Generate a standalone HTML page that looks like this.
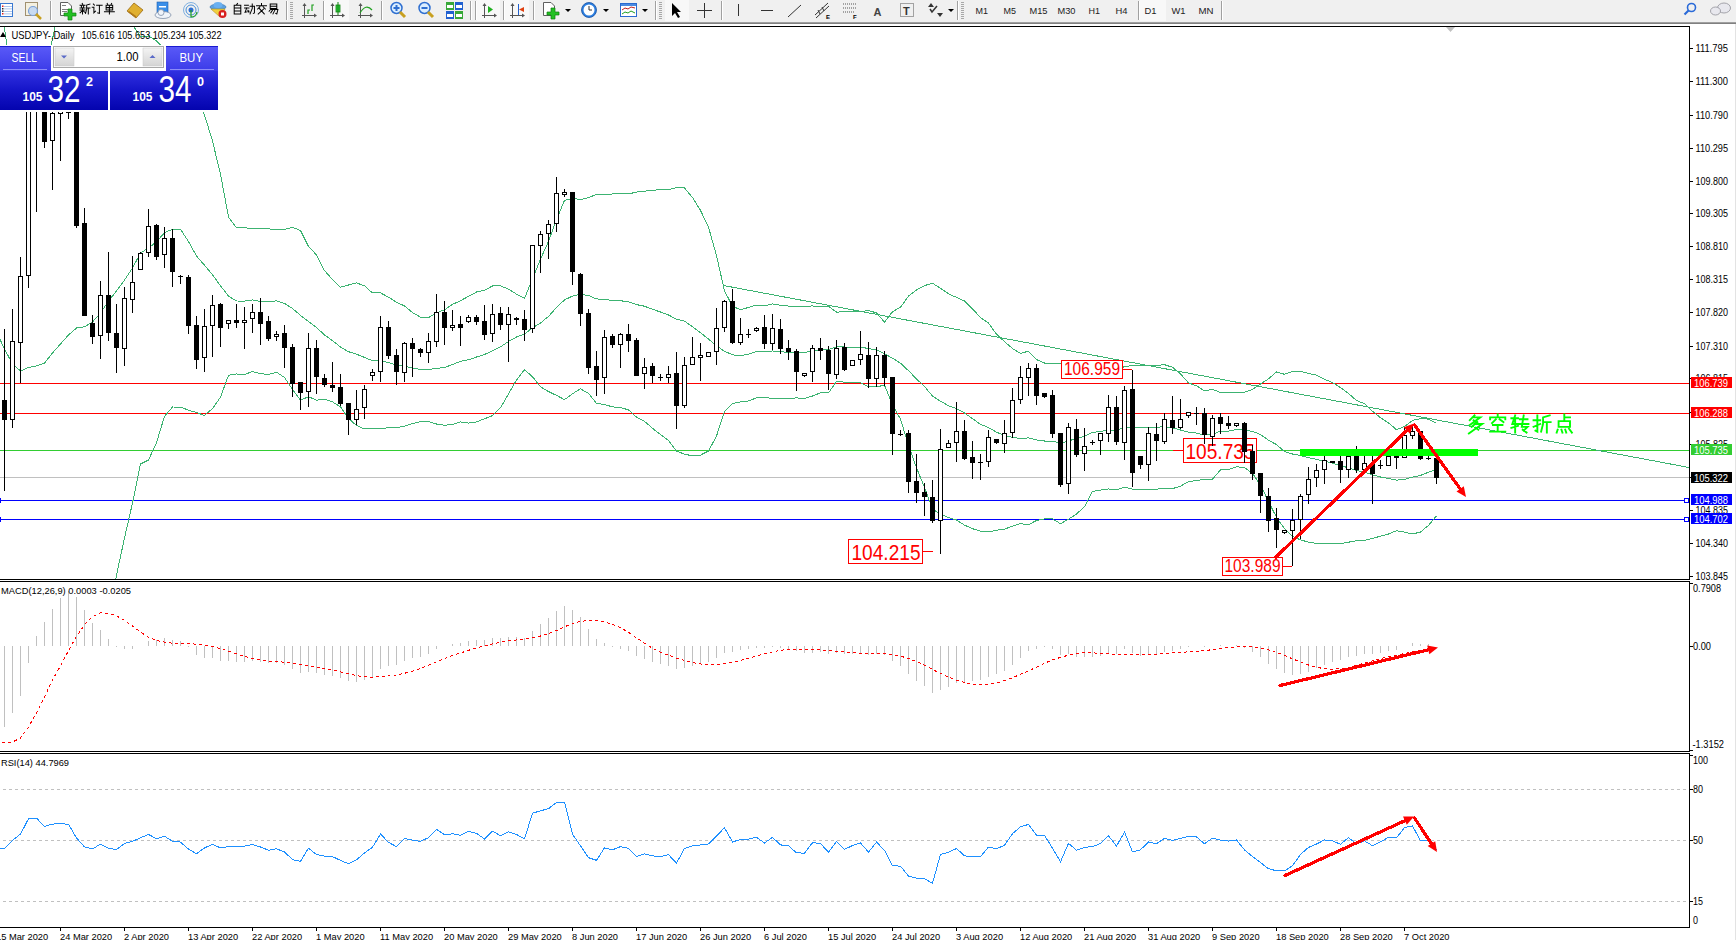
<!DOCTYPE html>
<html><head><meta charset="utf-8"><style>
html,body{margin:0;padding:0;width:1736px;height:940px;overflow:hidden;background:#fff;font-family:"Liberation Sans",sans-serif;}
</style></head><body>
<svg width="1736" height="940" viewBox="0 0 1736 940" style="position:absolute;left:0;top:0" font-family="Liberation Sans, sans-serif">
<rect width="1736" height="940" fill="#fff"/>
<defs>
<clipPath id="cm"><rect x="0" y="27" width="1689" height="552"/></clipPath>
<clipPath id="cmacd"><rect x="0" y="582" width="1689" height="169"/></clipPath>
<clipPath id="crsi"><rect x="0" y="754" width="1689" height="173"/></clipPath>
</defs>
<g shape-rendering="crispEdges">
<rect x="0" y="0" width="1736" height="22" fill="#f0f0f0"/>
<rect x="0" y="22" width="1736" height="1" fill="#a0a0a0"/>
<rect x="0" y="23" width="1736" height="1" fill="#808080"/>
<rect x="1735" y="24" width="1" height="916" fill="#e3e3e3"/>
<rect x="0" y="26" width="1690" height="1"/>
<rect x="1689" y="26" width="1" height="554"/>
<rect x="0" y="579" width="1690" height="1"/>
<rect x="0" y="581" width="1690" height="1"/>
<rect x="1689" y="581" width="1" height="171"/>
<rect x="0" y="751" width="1690" height="1"/>
<rect x="0" y="753" width="1690" height="1"/>
<rect x="1689" y="753" width="1" height="175"/>
<rect x="0" y="927" width="1690" height="1"/>
<rect x="1690" y="48" width="3" height="1"/>
<text x="1695.5" y="52" font-size="10" fill="#000" text-anchor="start" font-weight="normal" textLength="32.5" lengthAdjust="spacingAndGlyphs" >111.795</text>
<rect x="1690" y="81" width="3" height="1"/>
<text x="1695.5" y="85" font-size="10" fill="#000" text-anchor="start" font-weight="normal" textLength="32.5" lengthAdjust="spacingAndGlyphs" >111.300</text>
<rect x="1690" y="115" width="3" height="1"/>
<text x="1695.5" y="119" font-size="10" fill="#000" text-anchor="start" font-weight="normal" textLength="32.5" lengthAdjust="spacingAndGlyphs" >110.790</text>
<rect x="1690" y="148" width="3" height="1"/>
<text x="1695.5" y="152" font-size="10" fill="#000" text-anchor="start" font-weight="normal" textLength="32.5" lengthAdjust="spacingAndGlyphs" >110.295</text>
<rect x="1690" y="181" width="3" height="1"/>
<text x="1695.5" y="185" font-size="10" fill="#000" text-anchor="start" font-weight="normal" textLength="32.5" lengthAdjust="spacingAndGlyphs" >109.800</text>
<rect x="1690" y="213" width="3" height="1"/>
<text x="1695.5" y="217" font-size="10" fill="#000" text-anchor="start" font-weight="normal" textLength="32.5" lengthAdjust="spacingAndGlyphs" >109.305</text>
<rect x="1690" y="246" width="3" height="1"/>
<text x="1695.5" y="250" font-size="10" fill="#000" text-anchor="start" font-weight="normal" textLength="32.5" lengthAdjust="spacingAndGlyphs" >108.810</text>
<rect x="1690" y="279" width="3" height="1"/>
<text x="1695.5" y="283" font-size="10" fill="#000" text-anchor="start" font-weight="normal" textLength="32.5" lengthAdjust="spacingAndGlyphs" >108.315</text>
<rect x="1690" y="312" width="3" height="1"/>
<text x="1695.5" y="316" font-size="10" fill="#000" text-anchor="start" font-weight="normal" textLength="32.5" lengthAdjust="spacingAndGlyphs" >107.820</text>
<rect x="1690" y="346" width="3" height="1"/>
<text x="1695.5" y="350" font-size="10" fill="#000" text-anchor="start" font-weight="normal" textLength="32.5" lengthAdjust="spacingAndGlyphs" >107.310</text>
<rect x="1690" y="378" width="3" height="1"/>
<text x="1695.5" y="382" font-size="10" fill="#000" text-anchor="start" font-weight="normal" textLength="32.5" lengthAdjust="spacingAndGlyphs" >106.815</text>
<rect x="1690" y="412" width="3" height="1"/>
<text x="1695.5" y="416" font-size="10" fill="#000" text-anchor="start" font-weight="normal" textLength="32.5" lengthAdjust="spacingAndGlyphs" >106.305</text>
<rect x="1690" y="444" width="3" height="1"/>
<text x="1695.5" y="448" font-size="10" fill="#000" text-anchor="start" font-weight="normal" textLength="32.5" lengthAdjust="spacingAndGlyphs" >105.825</text>
<rect x="1690" y="477" width="3" height="1"/>
<text x="1695.5" y="481" font-size="10" fill="#000" text-anchor="start" font-weight="normal" textLength="32.5" lengthAdjust="spacingAndGlyphs" >105.330</text>
<rect x="1690" y="510" width="3" height="1"/>
<text x="1695.5" y="514" font-size="10" fill="#000" text-anchor="start" font-weight="normal" textLength="32.5" lengthAdjust="spacingAndGlyphs" >104.835</text>
<rect x="1690" y="543" width="3" height="1"/>
<text x="1695.5" y="547" font-size="10" fill="#000" text-anchor="start" font-weight="normal" textLength="32.5" lengthAdjust="spacingAndGlyphs" >104.340</text>
<rect x="1690" y="576" width="3" height="1"/>
<text x="1695.5" y="580" font-size="10" fill="#000" text-anchor="start" font-weight="normal" textLength="32.5" lengthAdjust="spacingAndGlyphs" >103.845</text>
<rect x="1690" y="583" width="3" height="1"/>
<text x="1693" y="592" font-size="10" fill="#000" text-anchor="start" font-weight="normal" textLength="28" lengthAdjust="spacingAndGlyphs" >0.7908</text>
<rect x="1690" y="646" width="3" height="1"/>
<text x="1693" y="650" font-size="10" fill="#000" text-anchor="start" font-weight="normal" textLength="18" lengthAdjust="spacingAndGlyphs" >0.00</text>
<rect x="1690" y="750" width="3" height="1"/>
<text x="1692.5" y="748" font-size="10" fill="#000" text-anchor="start" font-weight="normal" textLength="31.5" lengthAdjust="spacingAndGlyphs" >-1.3152</text>
<rect x="1690" y="755" width="3" height="1"/>
<rect x="1690" y="789" width="3" height="1"/>
<rect x="1690" y="840" width="3" height="1"/>
<rect x="1690" y="901" width="3" height="1"/>
<text x="1693" y="764" font-size="10" fill="#000" text-anchor="start" font-weight="normal" textLength="15" lengthAdjust="spacingAndGlyphs" >100</text>
<text x="1693" y="793" font-size="10" fill="#000" text-anchor="start" font-weight="normal" textLength="10" lengthAdjust="spacingAndGlyphs" >80</text>
<text x="1693" y="844" font-size="10" fill="#000" text-anchor="start" font-weight="normal" textLength="10" lengthAdjust="spacingAndGlyphs" >50</text>
<text x="1693" y="905" font-size="10" fill="#000" text-anchor="start" font-weight="normal" textLength="10" lengthAdjust="spacingAndGlyphs" >15</text>
<text x="1693" y="924" font-size="10" fill="#000" text-anchor="start" font-weight="normal" textLength="5" lengthAdjust="spacingAndGlyphs" >0</text>
<line x1="3" y1="789.5" x2="1689" y2="789.5" stroke="#c0c0c0" stroke-dasharray="3,3"/>
<line x1="3" y1="840.5" x2="1689" y2="840.5" stroke="#c0c0c0" stroke-dasharray="3,3"/>
<line x1="3" y1="901.5" x2="1689" y2="901.5" stroke="#c0c0c0" stroke-dasharray="3,3"/>
<rect x="-4" y="928" width="1" height="3"/>
<text x="-4" y="939.5" font-size="9.3" fill="#000" text-anchor="start" font-weight="normal" >15 Mar 2020</text>
<rect x="60" y="928" width="1" height="3"/>
<text x="60" y="939.5" font-size="9.3" fill="#000" text-anchor="start" font-weight="normal" >24 Mar 2020</text>
<rect x="124" y="928" width="1" height="3"/>
<text x="124" y="939.5" font-size="9.3" fill="#000" text-anchor="start" font-weight="normal" >2 Apr 2020</text>
<rect x="188" y="928" width="1" height="3"/>
<text x="188" y="939.5" font-size="9.3" fill="#000" text-anchor="start" font-weight="normal" >13 Apr 2020</text>
<rect x="252" y="928" width="1" height="3"/>
<text x="252" y="939.5" font-size="9.3" fill="#000" text-anchor="start" font-weight="normal" >22 Apr 2020</text>
<rect x="316" y="928" width="1" height="3"/>
<text x="316" y="939.5" font-size="9.3" fill="#000" text-anchor="start" font-weight="normal" >1 May 2020</text>
<rect x="380" y="928" width="1" height="3"/>
<text x="380" y="939.5" font-size="9.3" fill="#000" text-anchor="start" font-weight="normal" >11 May 2020</text>
<rect x="444" y="928" width="1" height="3"/>
<text x="444" y="939.5" font-size="9.3" fill="#000" text-anchor="start" font-weight="normal" >20 May 2020</text>
<rect x="508" y="928" width="1" height="3"/>
<text x="508" y="939.5" font-size="9.3" fill="#000" text-anchor="start" font-weight="normal" >29 May 2020</text>
<rect x="572" y="928" width="1" height="3"/>
<text x="572" y="939.5" font-size="9.3" fill="#000" text-anchor="start" font-weight="normal" >8 Jun 2020</text>
<rect x="636" y="928" width="1" height="3"/>
<text x="636" y="939.5" font-size="9.3" fill="#000" text-anchor="start" font-weight="normal" >17 Jun 2020</text>
<rect x="700" y="928" width="1" height="3"/>
<text x="700" y="939.5" font-size="9.3" fill="#000" text-anchor="start" font-weight="normal" >26 Jun 2020</text>
<rect x="764" y="928" width="1" height="3"/>
<text x="764" y="939.5" font-size="9.3" fill="#000" text-anchor="start" font-weight="normal" >6 Jul 2020</text>
<rect x="828" y="928" width="1" height="3"/>
<text x="828" y="939.5" font-size="9.3" fill="#000" text-anchor="start" font-weight="normal" >15 Jul 2020</text>
<rect x="892" y="928" width="1" height="3"/>
<text x="892" y="939.5" font-size="9.3" fill="#000" text-anchor="start" font-weight="normal" >24 Jul 2020</text>
<rect x="956" y="928" width="1" height="3"/>
<text x="956" y="939.5" font-size="9.3" fill="#000" text-anchor="start" font-weight="normal" >3 Aug 2020</text>
<rect x="1020" y="928" width="1" height="3"/>
<text x="1020" y="939.5" font-size="9.3" fill="#000" text-anchor="start" font-weight="normal" >12 Aug 2020</text>
<rect x="1084" y="928" width="1" height="3"/>
<text x="1084" y="939.5" font-size="9.3" fill="#000" text-anchor="start" font-weight="normal" >21 Aug 2020</text>
<rect x="1148" y="928" width="1" height="3"/>
<text x="1148" y="939.5" font-size="9.3" fill="#000" text-anchor="start" font-weight="normal" >31 Aug 2020</text>
<rect x="1212" y="928" width="1" height="3"/>
<text x="1212" y="939.5" font-size="9.3" fill="#000" text-anchor="start" font-weight="normal" >9 Sep 2020</text>
<rect x="1276" y="928" width="1" height="3"/>
<text x="1276" y="939.5" font-size="9.3" fill="#000" text-anchor="start" font-weight="normal" >18 Sep 2020</text>
<rect x="1340" y="928" width="1" height="3"/>
<text x="1340" y="939.5" font-size="9.3" fill="#000" text-anchor="start" font-weight="normal" >28 Sep 2020</text>
<rect x="1404" y="928" width="1" height="3"/>
<text x="1404" y="939.5" font-size="9.3" fill="#000" text-anchor="start" font-weight="normal" >7 Oct 2020</text>
<rect x="1691" y="377" width="41" height="11" fill="#ff0000"/>
<text x="1694" y="386.5" font-size="10" fill="#fff" text-anchor="start" font-weight="normal" textLength="34" lengthAdjust="spacingAndGlyphs" >106.739</text>
<rect x="1691" y="407" width="41" height="11" fill="#ff0000"/>
<text x="1694" y="416.5" font-size="10" fill="#fff" text-anchor="start" font-weight="normal" textLength="34" lengthAdjust="spacingAndGlyphs" >106.288</text>
<rect x="1691" y="444" width="41" height="11" fill="#32cd32"/>
<text x="1694" y="453.5" font-size="10" fill="#fff" text-anchor="start" font-weight="normal" textLength="34" lengthAdjust="spacingAndGlyphs" >105.735</text>
<rect x="1691" y="472" width="41" height="11" fill="#000000"/>
<text x="1694" y="481.5" font-size="10" fill="#fff" text-anchor="start" font-weight="normal" textLength="34" lengthAdjust="spacingAndGlyphs" >105.322</text>
<rect x="1691" y="494" width="41" height="11" fill="#0000ff"/>
<text x="1694" y="503.5" font-size="10" fill="#fff" text-anchor="start" font-weight="normal" textLength="34" lengthAdjust="spacingAndGlyphs" >104.988</text>
<rect x="1691" y="513" width="41" height="11" fill="#0000ff"/>
<text x="1694" y="522.5" font-size="10" fill="#fff" text-anchor="start" font-weight="normal" textLength="34" lengthAdjust="spacingAndGlyphs" >104.702</text>
</g>
<g clip-path="url(#cm)" shape-rendering="crispEdges">
<rect x="0" y="383" width="1689" height="1" fill="#ff0000"/>
<rect x="0" y="413" width="1689" height="1" fill="#ff0000"/>
<rect x="0" y="450" width="1689" height="1" fill="#32cd32"/>
<rect x="0" y="477" width="1689" height="1" fill="#c0c0c0"/>
<rect x="0" y="500" width="1689" height="1" fill="#0000ff"/>
<rect x="0" y="498" width="1" height="5" fill="#0000ff"/>
<rect x="1684.5" y="498.5" width="4" height="4" fill="#fff" stroke="#0000ff" stroke-width="1"/>
<rect x="0" y="519" width="1689" height="1" fill="#0000ff"/>
<rect x="0" y="517" width="1" height="5" fill="#0000ff"/>
<rect x="1684.5" y="517.5" width="4" height="4" fill="#fff" stroke="#0000ff" stroke-width="1"/>
<line x1="723.5" y1="285.5" x2="1689" y2="467.5" stroke="#3cb371"/>
<polyline points="-3.5,332.0 4.5,349.0 12.5,364.0 20.5,371.0 28.5,367.5 36.5,366.0 44.5,363.0 52.5,353.0 60.5,344.0 68.5,335.0 76.5,328.0 84.5,326.7 92.5,322.0 100.5,313.0 108.5,301.0 116.5,291.0 124.5,280.0 132.5,268.0 140.5,253.0 148.5,248.0 156.5,241.8 164.5,232.7 172.5,229.2 180.5,229.3 188.5,241.5 196.5,256.0 204.5,265.2 212.5,274.8 220.5,285.8 228.5,296.1 236.5,301.0 244.5,301.1 252.5,299.9 260.5,301.4 268.5,301.6 276.5,300.9 284.5,303.4 292.5,308.5 300.5,315.4 308.5,321.6 316.5,327.6 324.5,334.9 332.5,340.7 340.5,347.0 348.5,351.7 356.5,354.2 364.5,357.4 372.5,360.7 380.5,360.7 388.5,362.5 396.5,365.0 404.5,366.1 412.5,368.0 420.5,369.4 428.5,369.5 436.5,368.5 444.5,367.5 452.5,364.5 460.5,361.3 468.5,359.8 476.5,357.0 484.5,354.5 492.5,350.8 500.5,346.9 508.5,341.5 516.5,337.0 524.5,334.1 532.5,327.7 540.5,323.0 548.5,316.4 556.5,307.5 564.5,299.9 572.5,296.1 580.5,294.2 588.5,295.5 596.5,298.9 604.5,299.4 612.5,300.4 620.5,300.7 628.5,301.9 636.5,304.6 644.5,306.2 652.5,309.3 660.5,312.0 668.5,315.0 676.5,319.3 684.5,321.1 692.5,326.7 700.5,332.7 708.5,339.1 716.5,345.8 724.5,351.3 732.5,354.8 740.5,355.8 748.5,354.1 756.5,351.5 764.5,351.9 772.5,351.0 780.5,351.8 788.5,352.3 796.5,352.1 804.5,352.4 812.5,351.0 820.5,349.6 828.5,349.6 836.5,346.7 844.5,347.0 852.5,347.2 860.5,347.2 868.5,348.5 876.5,349.9 884.5,353.7 892.5,358.2 900.5,363.2 908.5,370.7 916.5,378.9 924.5,386.5 932.5,396.1 940.5,401.2 948.5,405.7 956.5,408.7 964.5,413.0 972.5,418.7 980.5,424.3 988.5,427.5 996.5,432.2 1004.5,435.4 1012.5,437.4 1020.5,438.5 1028.5,437.9 1036.5,440.0 1044.5,441.0 1052.5,441.0 1060.5,443.5 1068.5,440.7 1076.5,438.9 1084.5,436.3 1092.5,432.4 1100.5,431.6 1108.5,429.8 1116.5,430.4 1124.5,426.9 1132.5,427.4 1140.5,427.5 1148.5,427.3 1156.5,427.3 1164.5,426.6 1172.5,427.9 1180.5,430.0 1188.5,432.2 1196.5,433.1 1204.5,435.1 1212.5,434.3 1220.5,431.2 1228.5,431.1 1236.5,429.5 1244.5,429.9 1252.5,431.4 1260.5,434.5 1268.5,440.2 1276.5,444.6 1284.5,451.6 1292.5,454.0 1300.5,455.5 1308.5,457.8 1316.5,459.3 1324.5,461.3 1332.5,463.1 1340.5,465.7 1348.5,467.8 1356.5,470.6 1364.5,472.0 1372.5,474.8 1380.5,477.0 1388.5,478.4 1396.5,480.2 1404.5,479.3 1412.5,477.2 1420.5,475.4 1428.5,472.2 1436.5,469.6" fill="none" stroke="#3cb371" stroke-width="1" />
<polyline points="-3.5,-20.0 4.5,29.0 12.5,83.0 20.5,100.0 28.5,100.0 36.5,95.0 44.5,75.0 52.5,39.0 60.5,1.0 68.5,-5.0 76.5,-5.0 84.5,-5.0 92.5,-5.0 100.5,-5.0 108.5,-5.0 116.5,-5.0 124.5,-5.0 132.5,25.0 140.5,36.6 148.5,36.0 156.5,40.8 164.5,49.1 172.5,51.4 180.5,51.4 188.5,72.9 196.5,99.5 204.5,115.0 212.5,141.0 220.5,174.3 228.5,217.0 236.5,227.9 244.5,227.9 252.5,228.3 260.5,229.0 268.5,228.8 276.5,229.7 284.5,229.3 292.5,227.3 300.5,230.6 308.5,246.4 316.5,254.9 324.5,270.6 332.5,279.5 340.5,287.2 348.5,285.0 356.5,282.9 364.5,285.8 372.5,293.0 380.5,292.9 388.5,297.2 396.5,302.2 404.5,306.0 412.5,312.5 420.5,317.2 428.5,317.6 436.5,312.9 444.5,309.8 452.5,304.4 460.5,300.7 468.5,296.4 476.5,292.0 484.5,290.2 492.5,286.0 500.5,285.9 508.5,289.1 516.5,294.1 524.5,298.4 532.5,278.7 540.5,259.2 548.5,241.4 556.5,219.6 564.5,200.3 572.5,198.4 580.5,199.6 588.5,197.6 596.5,194.4 604.5,194.3 612.5,194.0 620.5,193.9 628.5,193.9 636.5,192.1 644.5,191.2 652.5,190.4 660.5,189.4 668.5,189.5 676.5,187.7 684.5,188.0 692.5,197.5 700.5,210.4 708.5,227.1 716.5,255.7 724.5,290.9 732.5,306.2 740.5,309.8 748.5,307.4 756.5,305.1 764.5,305.8 772.5,303.9 780.5,305.3 788.5,306.1 796.5,306.3 804.5,306.1 812.5,306.0 820.5,306.4 828.5,306.4 836.5,312.1 844.5,311.8 852.5,311.7 860.5,311.7 868.5,310.5 876.5,312.9 884.5,322.1 892.5,311.7 900.5,307.3 908.5,296.1 916.5,290.0 924.5,285.6 932.5,283.3 940.5,288.2 948.5,293.8 956.5,297.4 964.5,301.0 972.5,308.8 980.5,317.5 988.5,323.1 996.5,334.2 1004.5,341.6 1012.5,348.5 1020.5,353.4 1028.5,351.2 1036.5,359.6 1044.5,363.0 1052.5,363.0 1060.5,363.3 1068.5,362.3 1076.5,363.7 1084.5,365.9 1092.5,373.4 1100.5,373.1 1108.5,370.6 1116.5,370.9 1124.5,366.5 1132.5,365.7 1140.5,365.5 1148.5,365.4 1156.5,365.4 1164.5,364.7 1172.5,367.3 1180.5,373.9 1188.5,382.9 1196.5,385.8 1204.5,390.8 1212.5,389.3 1220.5,392.6 1228.5,392.5 1236.5,392.4 1244.5,392.1 1252.5,389.4 1260.5,384.0 1268.5,378.9 1276.5,371.9 1284.5,374.3 1292.5,371.5 1300.5,371.2 1308.5,373.5 1316.5,375.2 1324.5,379.3 1332.5,382.5 1340.5,387.6 1348.5,393.5 1356.5,400.5 1364.5,403.7 1372.5,411.2 1380.5,417.7 1388.5,422.9 1396.5,429.7 1404.5,426.5 1412.5,420.4 1420.5,418.7 1428.5,419.1 1436.5,423.4" fill="none" stroke="#3cb371" stroke-width="1" />
<polyline points="-3.5,640.0 4.5,620.0 12.5,620.0 20.5,620.0 28.5,620.0 36.5,620.0 44.5,620.0 52.5,620.0 60.5,620.0 68.5,620.0 76.5,620.0 84.5,620.0 92.5,620.0 100.5,620.0 108.5,620.0 116.5,575.0 124.5,538.0 132.5,503.0 140.5,464.0 148.5,460.0 156.5,442.7 164.5,416.3 172.5,407.0 180.5,407.1 188.5,410.1 196.5,412.6 204.5,415.4 212.5,408.6 220.5,397.2 228.5,375.3 236.5,374.0 244.5,374.4 252.5,371.6 260.5,373.7 268.5,374.5 276.5,372.2 284.5,377.5 292.5,389.6 300.5,400.3 308.5,396.7 316.5,400.2 324.5,399.1 332.5,401.9 340.5,406.8 348.5,418.5 356.5,425.5 364.5,429.0 372.5,428.5 380.5,428.5 388.5,427.8 396.5,427.7 404.5,426.2 412.5,423.5 420.5,421.6 428.5,421.5 436.5,424.0 444.5,425.2 452.5,424.6 460.5,421.9 468.5,423.1 476.5,421.9 484.5,418.8 492.5,415.6 500.5,407.8 508.5,394.0 516.5,380.0 524.5,369.7 532.5,376.7 540.5,386.9 548.5,391.5 556.5,395.4 564.5,399.6 572.5,393.8 580.5,388.8 588.5,393.4 596.5,403.4 604.5,404.5 612.5,406.9 620.5,407.5 628.5,409.9 636.5,417.1 644.5,421.3 652.5,428.3 660.5,434.6 668.5,440.5 676.5,451.0 684.5,454.2 692.5,455.8 700.5,455.1 708.5,451.0 716.5,436.0 724.5,411.7 732.5,403.5 740.5,401.9 748.5,400.9 756.5,397.9 764.5,397.9 772.5,398.1 780.5,398.3 788.5,398.5 796.5,397.9 804.5,398.6 812.5,396.0 820.5,392.8 828.5,392.9 836.5,381.4 844.5,382.2 852.5,382.6 860.5,382.6 868.5,386.6 876.5,386.8 884.5,385.2 892.5,404.8 900.5,419.2 908.5,445.2 916.5,467.8 924.5,487.5 932.5,509.0 940.5,514.1 948.5,517.6 956.5,520.0 964.5,525.1 972.5,528.7 980.5,531.1 988.5,531.9 996.5,530.2 1004.5,529.1 1012.5,526.2 1020.5,523.6 1028.5,524.7 1036.5,520.5 1044.5,518.9 1052.5,518.9 1060.5,523.7 1068.5,519.2 1076.5,514.0 1084.5,506.7 1092.5,491.4 1100.5,490.1 1108.5,489.0 1116.5,489.8 1124.5,487.3 1132.5,489.1 1140.5,489.5 1148.5,489.2 1156.5,489.1 1164.5,488.4 1172.5,488.6 1180.5,486.2 1188.5,481.6 1196.5,480.5 1204.5,479.4 1212.5,479.2 1220.5,469.8 1228.5,469.7 1236.5,466.7 1244.5,467.6 1252.5,473.4 1260.5,485.1 1268.5,501.5 1276.5,517.3 1284.5,528.8 1292.5,536.4 1300.5,539.9 1308.5,542.1 1316.5,543.4 1324.5,543.4 1332.5,543.7 1340.5,543.7 1348.5,542.2 1356.5,540.7 1364.5,540.4 1372.5,538.4 1380.5,536.2 1388.5,534.0 1396.5,530.7 1404.5,532.1 1412.5,534.0 1420.5,532.0 1428.5,525.4 1436.5,515.9" fill="none" stroke="#3cb371" stroke-width="1" />
<rect x="1061.5" y="360.5" width="61" height="18" fill="#fff" stroke="#ff0000"/>
<text x="1064" y="375" font-size="17.5" fill="#ff0000" text-anchor="start" font-weight="normal" textLength="56" lengthAdjust="spacingAndGlyphs" >106.959</text>
<rect x="1122" y="369" width="10" height="1" fill="#ff0000"/>
<rect x="1183.5" y="438.5" width="73" height="24" fill="#fff" stroke="#ff0000"/>
<text x="1185.5" y="459" font-size="22.5" fill="#ff0000" text-anchor="start" font-weight="normal" textLength="69" lengthAdjust="spacingAndGlyphs" >105.735</text>
<rect x="1173" y="450" width="10" height="1" fill="#ff0000"/>
<rect x="848.5" y="539.5" width="74" height="24" fill="#fff" stroke="#ff0000"/>
<text x="851.5" y="560" font-size="22.5" fill="#ff0000" text-anchor="start" font-weight="normal" textLength="69" lengthAdjust="spacingAndGlyphs" >104.215</text>
<rect x="922" y="551" width="11" height="1" fill="#ff0000"/>
<rect x="1222.5" y="557.5" width="60" height="18" fill="#fff" stroke="#ff0000"/>
<text x="1224.5" y="572" font-size="17.5" fill="#ff0000" text-anchor="start" font-weight="normal" textLength="56" lengthAdjust="spacingAndGlyphs" >103.989</text>
<rect x="1282" y="566" width="10" height="1" fill="#ff0000"/>
<rect x="4" y="329" width="1" height="162"/>
<rect x="2" y="400" width="5" height="20"/>
<rect x="12" y="309" width="1" height="119"/>
<rect x="10" y="341" width="5" height="79"/>
<rect x="11" y="342" width="3" height="77" fill="#fff"/>
<rect x="20" y="257" width="1" height="126"/>
<rect x="18" y="276" width="5" height="67"/>
<rect x="19" y="277" width="3" height="65" fill="#fff"/>
<rect x="28" y="60" width="1" height="228"/>
<rect x="26" y="80" width="5" height="196"/>
<rect x="27" y="81" width="3" height="194" fill="#fff"/>
<rect x="36" y="55" width="1" height="157"/>
<rect x="34" y="70" width="5" height="30"/>
<rect x="35" y="71" width="3" height="28" fill="#fff"/>
<rect x="44" y="60" width="1" height="88"/>
<rect x="42" y="75" width="5" height="67"/>
<rect x="52" y="100" width="1" height="90"/>
<rect x="50" y="113" width="5" height="28"/>
<rect x="51" y="114" width="3" height="26" fill="#fff"/>
<rect x="60" y="100" width="1" height="61"/>
<rect x="58" y="108" width="5" height="6"/>
<rect x="59" y="109" width="3" height="4" fill="#fff"/>
<rect x="68" y="104" width="1" height="15"/>
<rect x="66" y="110" width="5" height="3"/>
<rect x="76" y="95" width="1" height="133"/>
<rect x="74" y="104" width="5" height="122"/>
<rect x="84" y="208" width="1" height="108"/>
<rect x="82" y="223" width="5" height="93"/>
<rect x="92" y="315" width="1" height="29"/>
<rect x="90" y="323" width="5" height="14"/>
<rect x="100" y="281" width="1" height="78"/>
<rect x="98" y="295" width="5" height="41"/>
<rect x="99" y="296" width="3" height="39" fill="#fff"/>
<rect x="108" y="252" width="1" height="89"/>
<rect x="106" y="295" width="5" height="38"/>
<rect x="116" y="304" width="1" height="69"/>
<rect x="114" y="333" width="5" height="15"/>
<rect x="124" y="287" width="1" height="79"/>
<rect x="122" y="298" width="5" height="51"/>
<rect x="123" y="299" width="3" height="49" fill="#fff"/>
<rect x="132" y="256" width="1" height="57"/>
<rect x="130" y="282" width="5" height="18"/>
<rect x="131" y="283" width="3" height="16" fill="#fff"/>
<rect x="140" y="252" width="1" height="18"/>
<rect x="138" y="253" width="5" height="17"/>
<rect x="139" y="254" width="3" height="15" fill="#fff"/>
<rect x="148" y="209" width="1" height="48"/>
<rect x="146" y="226" width="5" height="27"/>
<rect x="147" y="227" width="3" height="25" fill="#fff"/>
<rect x="156" y="224" width="1" height="36"/>
<rect x="154" y="225" width="5" height="32"/>
<rect x="164" y="227" width="1" height="41"/>
<rect x="162" y="238" width="5" height="17"/>
<rect x="163" y="239" width="3" height="15" fill="#fff"/>
<rect x="172" y="229" width="1" height="58"/>
<rect x="170" y="238" width="5" height="34"/>
<rect x="180" y="275" width="1" height="9"/>
<rect x="178" y="276" width="5" height="1"/>
<rect x="188" y="275" width="1" height="59"/>
<rect x="186" y="277" width="5" height="49"/>
<rect x="196" y="316" width="1" height="53"/>
<rect x="194" y="325" width="5" height="35"/>
<rect x="204" y="309" width="1" height="63"/>
<rect x="202" y="326" width="5" height="32"/>
<rect x="203" y="327" width="3" height="30" fill="#fff"/>
<rect x="212" y="295" width="1" height="62"/>
<rect x="210" y="305" width="5" height="21"/>
<rect x="211" y="306" width="3" height="19" fill="#fff"/>
<rect x="220" y="303" width="1" height="44"/>
<rect x="218" y="304" width="5" height="24"/>
<rect x="228" y="320" width="1" height="9"/>
<rect x="226" y="320" width="5" height="4"/>
<rect x="227" y="321" width="3" height="2" fill="#fff"/>
<rect x="236" y="304" width="1" height="24"/>
<rect x="234" y="320" width="5" height="3"/>
<rect x="244" y="307" width="1" height="42"/>
<rect x="242" y="320" width="5" height="3"/>
<rect x="243" y="321" width="3" height="1" fill="#fff"/>
<rect x="252" y="304" width="1" height="29"/>
<rect x="250" y="312" width="5" height="7"/>
<rect x="251" y="313" width="3" height="5" fill="#fff"/>
<rect x="260" y="298" width="1" height="47"/>
<rect x="258" y="312" width="5" height="12"/>
<rect x="268" y="316" width="1" height="25"/>
<rect x="266" y="321" width="5" height="18"/>
<rect x="276" y="331" width="1" height="10"/>
<rect x="274" y="334" width="5" height="3"/>
<rect x="275" y="335" width="3" height="1" fill="#fff"/>
<rect x="284" y="325" width="1" height="43"/>
<rect x="282" y="333" width="5" height="15"/>
<rect x="292" y="344" width="1" height="53"/>
<rect x="290" y="347" width="5" height="37"/>
<rect x="300" y="382" width="1" height="28"/>
<rect x="298" y="382" width="5" height="11"/>
<rect x="308" y="333" width="1" height="74"/>
<rect x="306" y="348" width="5" height="44"/>
<rect x="307" y="349" width="3" height="42" fill="#fff"/>
<rect x="316" y="340" width="1" height="54"/>
<rect x="314" y="348" width="5" height="29"/>
<rect x="324" y="374" width="1" height="13"/>
<rect x="322" y="378" width="5" height="7"/>
<rect x="332" y="362" width="1" height="30"/>
<rect x="330" y="385" width="5" height="3"/>
<rect x="340" y="374" width="1" height="32"/>
<rect x="338" y="387" width="5" height="17"/>
<rect x="348" y="403" width="1" height="32"/>
<rect x="346" y="403" width="5" height="17"/>
<rect x="356" y="390" width="1" height="35"/>
<rect x="354" y="409" width="5" height="11"/>
<rect x="355" y="410" width="3" height="9" fill="#fff"/>
<rect x="364" y="385" width="1" height="34"/>
<rect x="362" y="389" width="5" height="19"/>
<rect x="363" y="390" width="3" height="17" fill="#fff"/>
<rect x="372" y="369" width="1" height="12"/>
<rect x="370" y="372" width="5" height="4"/>
<rect x="371" y="373" width="3" height="2" fill="#fff"/>
<rect x="380" y="316" width="1" height="66"/>
<rect x="378" y="327" width="5" height="45"/>
<rect x="379" y="328" width="3" height="43" fill="#fff"/>
<rect x="388" y="321" width="1" height="38"/>
<rect x="386" y="327" width="5" height="29"/>
<rect x="396" y="349" width="1" height="36"/>
<rect x="394" y="355" width="5" height="17"/>
<rect x="404" y="342" width="1" height="40"/>
<rect x="402" y="343" width="5" height="30"/>
<rect x="403" y="344" width="3" height="28" fill="#fff"/>
<rect x="412" y="338" width="1" height="39"/>
<rect x="410" y="343" width="5" height="6"/>
<rect x="420" y="348" width="1" height="9"/>
<rect x="418" y="349" width="5" height="4"/>
<rect x="428" y="333" width="1" height="30"/>
<rect x="426" y="341" width="5" height="12"/>
<rect x="427" y="342" width="3" height="10" fill="#fff"/>
<rect x="436" y="294" width="1" height="53"/>
<rect x="434" y="312" width="5" height="30"/>
<rect x="435" y="313" width="3" height="28" fill="#fff"/>
<rect x="444" y="301" width="1" height="44"/>
<rect x="442" y="312" width="5" height="16"/>
<rect x="452" y="310" width="1" height="21"/>
<rect x="450" y="325" width="5" height="3"/>
<rect x="451" y="326" width="3" height="1" fill="#fff"/>
<rect x="460" y="316" width="1" height="30"/>
<rect x="458" y="324" width="5" height="4"/>
<rect x="468" y="315" width="1" height="8"/>
<rect x="466" y="317" width="5" height="5"/>
<rect x="467" y="318" width="3" height="3" fill="#fff"/>
<rect x="476" y="315" width="1" height="10"/>
<rect x="474" y="317" width="5" height="5"/>
<rect x="484" y="305" width="1" height="35"/>
<rect x="482" y="321" width="5" height="14"/>
<rect x="492" y="304" width="1" height="38"/>
<rect x="490" y="314" width="5" height="20"/>
<rect x="491" y="315" width="3" height="18" fill="#fff"/>
<rect x="500" y="307" width="1" height="23"/>
<rect x="498" y="313" width="5" height="12"/>
<rect x="508" y="307" width="1" height="55"/>
<rect x="506" y="314" width="5" height="11"/>
<rect x="507" y="315" width="3" height="9" fill="#fff"/>
<rect x="516" y="317" width="1" height="8"/>
<rect x="514" y="318" width="5" height="2"/>
<rect x="524" y="310" width="1" height="31"/>
<rect x="522" y="319" width="5" height="11"/>
<rect x="532" y="245" width="1" height="88"/>
<rect x="530" y="245" width="5" height="84"/>
<rect x="531" y="246" width="3" height="82" fill="#fff"/>
<rect x="540" y="231" width="1" height="42"/>
<rect x="538" y="234" width="5" height="12"/>
<rect x="539" y="235" width="3" height="10" fill="#fff"/>
<rect x="548" y="220" width="1" height="39"/>
<rect x="546" y="224" width="5" height="10"/>
<rect x="547" y="225" width="3" height="8" fill="#fff"/>
<rect x="556" y="177" width="1" height="55"/>
<rect x="554" y="193" width="5" height="31"/>
<rect x="555" y="194" width="3" height="29" fill="#fff"/>
<rect x="564" y="189" width="1" height="8"/>
<rect x="562" y="192" width="5" height="3"/>
<rect x="563" y="193" width="3" height="1" fill="#fff"/>
<rect x="572" y="192" width="1" height="93"/>
<rect x="570" y="192" width="5" height="80"/>
<rect x="580" y="273" width="1" height="53"/>
<rect x="578" y="274" width="5" height="40"/>
<rect x="588" y="309" width="1" height="65"/>
<rect x="586" y="313" width="5" height="55"/>
<rect x="596" y="351" width="1" height="45"/>
<rect x="594" y="366" width="5" height="14"/>
<rect x="604" y="330" width="1" height="64"/>
<rect x="602" y="337" width="5" height="41"/>
<rect x="603" y="338" width="3" height="39" fill="#fff"/>
<rect x="612" y="334" width="1" height="14"/>
<rect x="610" y="336" width="5" height="9"/>
<rect x="620" y="333" width="1" height="35"/>
<rect x="618" y="334" width="5" height="11"/>
<rect x="619" y="335" width="3" height="9" fill="#fff"/>
<rect x="628" y="324" width="1" height="28"/>
<rect x="626" y="334" width="5" height="7"/>
<rect x="636" y="338" width="1" height="38"/>
<rect x="634" y="340" width="5" height="36"/>
<rect x="644" y="358" width="1" height="31"/>
<rect x="642" y="367" width="5" height="7"/>
<rect x="643" y="368" width="3" height="5" fill="#fff"/>
<rect x="652" y="363" width="1" height="20"/>
<rect x="650" y="366" width="5" height="10"/>
<rect x="660" y="374" width="1" height="7"/>
<rect x="658" y="377" width="5" height="1"/>
<rect x="668" y="366" width="1" height="17"/>
<rect x="666" y="374" width="5" height="4"/>
<rect x="667" y="375" width="3" height="2" fill="#fff"/>
<rect x="676" y="352" width="1" height="77"/>
<rect x="674" y="373" width="5" height="33"/>
<rect x="684" y="357" width="1" height="51"/>
<rect x="682" y="365" width="5" height="41"/>
<rect x="683" y="366" width="3" height="39" fill="#fff"/>
<rect x="692" y="337" width="1" height="28"/>
<rect x="690" y="357" width="5" height="8"/>
<rect x="691" y="358" width="3" height="6" fill="#fff"/>
<rect x="700" y="343" width="1" height="38"/>
<rect x="698" y="355" width="5" height="3"/>
<rect x="699" y="356" width="3" height="1" fill="#fff"/>
<rect x="708" y="352" width="1" height="5"/>
<rect x="706" y="352" width="5" height="5"/>
<rect x="707" y="353" width="3" height="3" fill="#fff"/>
<rect x="716" y="308" width="1" height="57"/>
<rect x="714" y="328" width="5" height="24"/>
<rect x="715" y="329" width="3" height="22" fill="#fff"/>
<rect x="724" y="300" width="1" height="32"/>
<rect x="722" y="301" width="5" height="27"/>
<rect x="723" y="302" width="3" height="25" fill="#fff"/>
<rect x="732" y="289" width="1" height="55"/>
<rect x="730" y="301" width="5" height="42"/>
<rect x="740" y="318" width="1" height="27"/>
<rect x="738" y="334" width="5" height="9"/>
<rect x="739" y="335" width="3" height="7" fill="#fff"/>
<rect x="748" y="329" width="1" height="9"/>
<rect x="746" y="334" width="5" height="1"/>
<rect x="756" y="327" width="1" height="5"/>
<rect x="754" y="328" width="5" height="3"/>
<rect x="755" y="329" width="3" height="1" fill="#fff"/>
<rect x="764" y="315" width="1" height="34"/>
<rect x="762" y="327" width="5" height="17"/>
<rect x="772" y="314" width="1" height="36"/>
<rect x="770" y="328" width="5" height="16"/>
<rect x="771" y="329" width="3" height="14" fill="#fff"/>
<rect x="780" y="319" width="1" height="35"/>
<rect x="778" y="329" width="5" height="20"/>
<rect x="788" y="340" width="1" height="20"/>
<rect x="786" y="348" width="5" height="4"/>
<rect x="796" y="349" width="1" height="42"/>
<rect x="794" y="351" width="5" height="21"/>
<rect x="804" y="373" width="1" height="4"/>
<rect x="802" y="373" width="5" height="3"/>
<rect x="803" y="374" width="3" height="1" fill="#fff"/>
<rect x="812" y="345" width="1" height="37"/>
<rect x="810" y="348" width="5" height="24"/>
<rect x="811" y="349" width="3" height="22" fill="#fff"/>
<rect x="820" y="338" width="1" height="22"/>
<rect x="818" y="348" width="5" height="3"/>
<rect x="828" y="346" width="1" height="44"/>
<rect x="826" y="350" width="5" height="24"/>
<rect x="836" y="340" width="1" height="39"/>
<rect x="834" y="348" width="5" height="27"/>
<rect x="835" y="349" width="3" height="25" fill="#fff"/>
<rect x="844" y="343" width="1" height="28"/>
<rect x="842" y="347" width="5" height="23"/>
<rect x="852" y="360" width="1" height="6"/>
<rect x="850" y="360" width="5" height="6"/>
<rect x="851" y="361" width="3" height="4" fill="#fff"/>
<rect x="860" y="331" width="1" height="34"/>
<rect x="858" y="354" width="5" height="6"/>
<rect x="859" y="355" width="3" height="4" fill="#fff"/>
<rect x="868" y="342" width="1" height="46"/>
<rect x="866" y="355" width="5" height="24"/>
<rect x="876" y="347" width="1" height="40"/>
<rect x="874" y="355" width="5" height="24"/>
<rect x="875" y="356" width="3" height="22" fill="#fff"/>
<rect x="884" y="351" width="1" height="35"/>
<rect x="882" y="355" width="5" height="23"/>
<rect x="892" y="377" width="1" height="78"/>
<rect x="890" y="377" width="5" height="57"/>
<rect x="900" y="430" width="1" height="6"/>
<rect x="898" y="434" width="5" height="1"/>
<rect x="908" y="430" width="1" height="63"/>
<rect x="906" y="433" width="5" height="49"/>
<rect x="916" y="454" width="1" height="49"/>
<rect x="914" y="481" width="5" height="12"/>
<rect x="924" y="483" width="1" height="33"/>
<rect x="922" y="492" width="5" height="5"/>
<rect x="932" y="480" width="1" height="43"/>
<rect x="930" y="497" width="5" height="24"/>
<rect x="940" y="429" width="1" height="125"/>
<rect x="938" y="449" width="5" height="72"/>
<rect x="939" y="450" width="3" height="70" fill="#fff"/>
<rect x="948" y="440" width="1" height="8"/>
<rect x="946" y="443" width="5" height="5"/>
<rect x="947" y="444" width="3" height="3" fill="#fff"/>
<rect x="956" y="402" width="1" height="60"/>
<rect x="954" y="431" width="5" height="12"/>
<rect x="955" y="432" width="3" height="10" fill="#fff"/>
<rect x="964" y="420" width="1" height="40"/>
<rect x="962" y="431" width="5" height="28"/>
<rect x="972" y="441" width="1" height="38"/>
<rect x="970" y="457" width="5" height="6"/>
<rect x="980" y="454" width="1" height="26"/>
<rect x="978" y="462" width="5" height="1"/>
<rect x="988" y="430" width="1" height="37"/>
<rect x="986" y="437" width="5" height="25"/>
<rect x="987" y="438" width="3" height="23" fill="#fff"/>
<rect x="996" y="439" width="1" height="5"/>
<rect x="994" y="439" width="5" height="4"/>
<rect x="1004" y="420" width="1" height="33"/>
<rect x="1002" y="433" width="5" height="11"/>
<rect x="1003" y="434" width="3" height="9" fill="#fff"/>
<rect x="1012" y="388" width="1" height="50"/>
<rect x="1010" y="400" width="5" height="33"/>
<rect x="1011" y="401" width="3" height="31" fill="#fff"/>
<rect x="1020" y="366" width="1" height="38"/>
<rect x="1018" y="377" width="5" height="23"/>
<rect x="1019" y="378" width="3" height="21" fill="#fff"/>
<rect x="1028" y="363" width="1" height="33"/>
<rect x="1026" y="368" width="5" height="10"/>
<rect x="1027" y="369" width="3" height="8" fill="#fff"/>
<rect x="1036" y="364" width="1" height="41"/>
<rect x="1034" y="368" width="5" height="28"/>
<rect x="1044" y="393" width="1" height="5"/>
<rect x="1042" y="393" width="5" height="4"/>
<rect x="1052" y="390" width="1" height="48"/>
<rect x="1050" y="395" width="5" height="39"/>
<rect x="1060" y="433" width="1" height="54"/>
<rect x="1058" y="433" width="5" height="52"/>
<rect x="1068" y="423" width="1" height="71"/>
<rect x="1066" y="427" width="5" height="57"/>
<rect x="1067" y="428" width="3" height="55" fill="#fff"/>
<rect x="1076" y="419" width="1" height="38"/>
<rect x="1074" y="429" width="5" height="26"/>
<rect x="1084" y="428" width="1" height="43"/>
<rect x="1082" y="446" width="5" height="8"/>
<rect x="1083" y="447" width="3" height="6" fill="#fff"/>
<rect x="1092" y="440" width="1" height="5"/>
<rect x="1090" y="442" width="5" height="1"/>
<rect x="1100" y="433" width="1" height="22"/>
<rect x="1098" y="433" width="5" height="8"/>
<rect x="1099" y="434" width="3" height="6" fill="#fff"/>
<rect x="1108" y="395" width="1" height="47"/>
<rect x="1106" y="407" width="5" height="27"/>
<rect x="1107" y="408" width="3" height="25" fill="#fff"/>
<rect x="1116" y="396" width="1" height="49"/>
<rect x="1114" y="407" width="5" height="35"/>
<rect x="1124" y="386" width="1" height="74"/>
<rect x="1122" y="390" width="5" height="53"/>
<rect x="1123" y="391" width="3" height="51" fill="#fff"/>
<rect x="1132" y="370" width="1" height="117"/>
<rect x="1130" y="389" width="5" height="84"/>
<rect x="1140" y="456" width="1" height="13"/>
<rect x="1138" y="456" width="5" height="9"/>
<rect x="1148" y="427" width="1" height="54"/>
<rect x="1146" y="433" width="5" height="32"/>
<rect x="1147" y="434" width="3" height="30" fill="#fff"/>
<rect x="1156" y="423" width="1" height="38"/>
<rect x="1154" y="434" width="5" height="7"/>
<rect x="1164" y="413" width="1" height="31"/>
<rect x="1162" y="419" width="5" height="23"/>
<rect x="1163" y="420" width="3" height="21" fill="#fff"/>
<rect x="1172" y="396" width="1" height="38"/>
<rect x="1170" y="420" width="5" height="8"/>
<rect x="1180" y="399" width="1" height="30"/>
<rect x="1178" y="419" width="5" height="9"/>
<rect x="1179" y="420" width="3" height="7" fill="#fff"/>
<rect x="1188" y="412" width="1" height="6"/>
<rect x="1186" y="412" width="5" height="4"/>
<rect x="1187" y="413" width="3" height="2" fill="#fff"/>
<rect x="1196" y="407" width="1" height="18"/>
<rect x="1194" y="413" width="5" height="1"/>
<rect x="1204" y="408" width="1" height="36"/>
<rect x="1202" y="413" width="5" height="22"/>
<rect x="1212" y="415" width="1" height="31"/>
<rect x="1210" y="418" width="5" height="19"/>
<rect x="1211" y="419" width="3" height="17" fill="#fff"/>
<rect x="1220" y="413" width="1" height="21"/>
<rect x="1218" y="417" width="5" height="7"/>
<rect x="1228" y="416" width="1" height="13"/>
<rect x="1226" y="423" width="5" height="3"/>
<rect x="1236" y="423" width="1" height="4"/>
<rect x="1234" y="423" width="5" height="3"/>
<rect x="1235" y="424" width="3" height="1" fill="#fff"/>
<rect x="1244" y="422" width="1" height="41"/>
<rect x="1242" y="423" width="5" height="29"/>
<rect x="1252" y="445" width="1" height="35"/>
<rect x="1250" y="451" width="5" height="23"/>
<rect x="1260" y="473" width="1" height="40"/>
<rect x="1258" y="473" width="5" height="23"/>
<rect x="1268" y="488" width="1" height="44"/>
<rect x="1266" y="496" width="5" height="25"/>
<rect x="1276" y="508" width="1" height="40"/>
<rect x="1274" y="518" width="5" height="12"/>
<rect x="1284" y="530" width="1" height="4"/>
<rect x="1282" y="530" width="5" height="3"/>
<rect x="1283" y="531" width="3" height="1" fill="#fff"/>
<rect x="1292" y="509" width="1" height="57"/>
<rect x="1290" y="520" width="5" height="11"/>
<rect x="1291" y="521" width="3" height="9" fill="#fff"/>
<rect x="1300" y="494" width="1" height="45"/>
<rect x="1298" y="496" width="5" height="24"/>
<rect x="1299" y="497" width="3" height="22" fill="#fff"/>
<rect x="1308" y="467" width="1" height="37"/>
<rect x="1306" y="479" width="5" height="16"/>
<rect x="1307" y="480" width="3" height="14" fill="#fff"/>
<rect x="1316" y="464" width="1" height="23"/>
<rect x="1314" y="470" width="5" height="8"/>
<rect x="1315" y="471" width="3" height="6" fill="#fff"/>
<rect x="1324" y="456" width="1" height="28"/>
<rect x="1322" y="460" width="5" height="10"/>
<rect x="1323" y="461" width="3" height="8" fill="#fff"/>
<rect x="1332" y="461" width="1" height="2"/>
<rect x="1330" y="461" width="5" height="2"/>
<rect x="1340" y="456" width="1" height="27"/>
<rect x="1338" y="461" width="5" height="9"/>
<rect x="1348" y="452" width="1" height="26"/>
<rect x="1346" y="456" width="5" height="14"/>
<rect x="1347" y="457" width="3" height="12" fill="#fff"/>
<rect x="1356" y="446" width="1" height="27"/>
<rect x="1354" y="452" width="5" height="18"/>
<rect x="1364" y="450" width="1" height="20"/>
<rect x="1362" y="463" width="5" height="7"/>
<rect x="1363" y="464" width="3" height="5" fill="#fff"/>
<rect x="1372" y="452" width="1" height="52"/>
<rect x="1370" y="463" width="5" height="11"/>
<rect x="1380" y="460" width="1" height="9"/>
<rect x="1378" y="465" width="5" height="1"/>
<rect x="1388" y="450" width="1" height="16"/>
<rect x="1386" y="456" width="5" height="10"/>
<rect x="1387" y="457" width="3" height="8" fill="#fff"/>
<rect x="1396" y="452" width="1" height="17"/>
<rect x="1394" y="456" width="5" height="2"/>
<rect x="1404" y="427" width="1" height="31"/>
<rect x="1402" y="435" width="5" height="23"/>
<rect x="1403" y="436" width="3" height="21" fill="#fff"/>
<rect x="1412" y="426" width="1" height="13"/>
<rect x="1410" y="431" width="5" height="5"/>
<rect x="1411" y="432" width="3" height="3" fill="#fff"/>
<rect x="1420" y="431" width="1" height="29"/>
<rect x="1418" y="431" width="5" height="28"/>
<rect x="1428" y="456" width="1" height="4"/>
<rect x="1426" y="458" width="5" height="1"/>
<rect x="1436" y="458" width="1" height="26"/>
<rect x="1434" y="458" width="5" height="20"/>
<rect x="1300" y="449" width="178" height="7" fill="#00ff00"/>
<g shape-rendering="auto"><path d="M9,1 L4,6 M7,3 H15 L4,11 M8,6 L11,8 M12,8 L6,13 M9,10 H17 L3,20 M10,14 L13,16" transform="translate(1466.00,414.5) scale(0.9500)" fill="none" stroke="#00ff00" stroke-width="2.00" stroke-linecap="square"/>
<path d="M10,0 V2 M2,5 V3 H18 V5 M8,5 L4,9 M12,5 L16,8 M5,11 H15 M10,11 V18 M2,18 H18" transform="translate(1488.20,414.5) scale(0.9500)" fill="none" stroke="#00ff00" stroke-width="2.00" stroke-linecap="square"/>
<path d="M1,4 H8 M5,1 L2,10 H8 M5,6 V19 M1,14 L8,12 M10,5 H18 M9,10 H19 M14,1 L12,13 H18 L14,17 M13,16 L17,19" transform="translate(1510.40,414.5) scale(0.9500)" fill="none" stroke="#00ff00" stroke-width="2.00" stroke-linecap="square"/>
<path d="M1,6 H8 M5,1 V18 L3,17 M1,13 L8,10 M18,1 L11,3 V10 L9,18 M11,8 H19 M15,8 V19" transform="translate(1532.60,414.5) scale(0.9500)" fill="none" stroke="#00ff00" stroke-width="2.00" stroke-linecap="square"/>
<path d="M10,0 V7 M10,3 H16 M4,7 H16 V13 H4 Z M3,16 L2,19 M7,16 L8,19 M11,16 L12,19 M15,15 L18,19" transform="translate(1554.80,414.5) scale(0.9500)" fill="none" stroke="#00ff00" stroke-width="2.00" stroke-linecap="square"/></g>
</g>
<g clip-path="url(#cm)">
<line x1="1276" y1="557" x2="1406.8" y2="430.5" stroke="#ff0000" stroke-width="3.2" stroke-linecap="round" shape-rendering="crispEdges"/><polygon points="1414,423.5 1409.9,433.7 1403.7,427.2" fill="#ff0000"/><line x1="1414.5" y1="425" x2="1460.2" y2="488.9" stroke="#ff0000" stroke-width="3.2" stroke-linecap="round" shape-rendering="crispEdges"/><polygon points="1466,497 1456.5,491.5 1463.8,486.2" fill="#ff0000"/>
</g>
<polygon points="1446,27 1455,27 1450.5,32" fill="#c0c0c0"/>
<polygon points="0,37 3,32 6,37" fill="#000"/>
<text x="11.5" y="38.5" font-size="10.5" fill="#000" text-anchor="start" font-weight="normal" textLength="63" lengthAdjust="spacingAndGlyphs" >USDJPY-,Daily</text>
<text x="81.5" y="38.5" font-size="10.5" fill="#000" text-anchor="start" font-weight="normal" textLength="140" lengthAdjust="spacingAndGlyphs" >105.616 105.653 105.234 105.322</text>
<defs>
<linearGradient id="gtop" x1="0" y1="0" x2="0" y2="1"><stop offset="0" stop-color="#5a5af8"/><stop offset="1" stop-color="#3b3be8"/></linearGradient>
<linearGradient id="gbot" x1="0" y1="0" x2="0" y2="1"><stop offset="0" stop-color="#3030e0"/><stop offset="0.5" stop-color="#1515c8"/><stop offset="1" stop-color="#0404ae"/></linearGradient>
<linearGradient id="gbtn" x1="0" y1="0" x2="0" y2="1"><stop offset="0" stop-color="#f4f4f4"/><stop offset="1" stop-color="#d4d4d4"/></linearGradient>
</defs>
<rect x="0" y="45" width="220" height="67" fill="#fff"/>
<rect x="0" y="46" width="51" height="25" fill="url(#gtop)"/>
<rect x="0" y="46" width="51" height="1" fill="#1a1ad0"/>
<rect x="3" y="69" width="44" height="1" fill="#8c8cf8"/>
<rect x="166" y="46" width="52" height="25" fill="url(#gtop)"/>
<rect x="166" y="46" width="52" height="1" fill="#1a1ad0"/>
<rect x="170" y="69" width="44" height="1" fill="#8c8cf8"/>
<rect x="0" y="71" width="108" height="39" fill="url(#gbot)"/>
<rect x="110" y="71" width="108" height="39" fill="url(#gbot)"/>
<rect x="53.5" y="46.5" width="110" height="21" fill="#fff" stroke="#a8a8a8"/>
<rect x="55" y="48" width="19" height="18" fill="url(#gbtn)" stroke="#c8c8c8" stroke-width="0.5"/>
<rect x="143" y="48" width="19" height="18" fill="url(#gbtn)" stroke="#c8c8c8" stroke-width="0.5"/>
<polygon points="61,55.5 67,55.5 64,58.5" fill="#5a6ac8"/>
<polygon points="149.5,58 155.5,58 152.5,55" fill="#5a6ac8"/>
<text x="138.5" y="61" font-size="12.5" fill="#000" text-anchor="end" font-weight="normal" textLength="22" lengthAdjust="spacingAndGlyphs" >1.00</text>
<text x="11.5" y="62" font-size="12.5" fill="#fff" text-anchor="start" font-weight="normal" textLength="25.5" lengthAdjust="spacingAndGlyphs" >SELL</text>
<text x="179.5" y="62" font-size="12.5" fill="#fff" text-anchor="start" font-weight="normal" textLength="23.5" lengthAdjust="spacingAndGlyphs" >BUY</text>
<text x="22.5" y="101" font-size="12.5" fill="#fff" text-anchor="start" font-weight="bold" textLength="20" lengthAdjust="spacingAndGlyphs" >105</text>
<text x="47.5" y="101.5" font-size="36" fill="#fff" text-anchor="start" font-weight="normal" textLength="33" lengthAdjust="spacingAndGlyphs" >32</text>
<text x="86" y="85.5" font-size="13" fill="#fff" text-anchor="start" font-weight="bold" textLength="7" lengthAdjust="spacingAndGlyphs" >2</text>
<text x="132.5" y="101" font-size="12.5" fill="#fff" text-anchor="start" font-weight="bold" textLength="20" lengthAdjust="spacingAndGlyphs" >105</text>
<text x="158.5" y="101.5" font-size="36" fill="#fff" text-anchor="start" font-weight="normal" textLength="33" lengthAdjust="spacingAndGlyphs" >34</text>
<text x="197" y="85.5" font-size="13" fill="#fff" text-anchor="start" font-weight="bold" textLength="7" lengthAdjust="spacingAndGlyphs" >0</text>
<g>
<rect x="0.5" y="3.5" width="12" height="13" fill="#fff" stroke="#3a78d0"/>
<rect x="2" y="5.5" width="1.5" height="1.5" fill="#e02020"/><rect x="4" y="6.0" width="8" height="0.8" fill="#9ab8e8"/>
<rect x="2" y="8.0" width="1.5" height="1.5" fill="#303030"/><rect x="4" y="8.5" width="8" height="0.8" fill="#9ab8e8"/>
<rect x="2" y="10.5" width="1.5" height="1.5" fill="#303030"/><rect x="4" y="11.0" width="8" height="0.8" fill="#9ab8e8"/>
<rect x="2" y="13.0" width="1.5" height="1.5" fill="#e02020"/><rect x="4" y="13.5" width="8" height="0.8" fill="#9ab8e8"/>
<rect x="25.5" y="2.5" width="12" height="13" fill="#f4f0e0" stroke="#a09070"/>
<circle cx="33" cy="11" r="4.5" fill="#c8daf0" stroke="#7aa0d8" stroke-width="1.2"/>
<line x1="36" y1="14" x2="41" y2="19" stroke="#c8a020" stroke-width="2.5"/>
<rect x="50" y="1" width="1" height="19" fill="#a0a0a0"/><rect x="51" y="1" width="1" height="19" fill="#ffffff"/>
<path d="M60.5,2.5 H68 L71.5,6 V15.5 H60.5 Z" fill="#fff" stroke="#606060"/>
<rect x="62" y="5" width="4" height="1" fill="#808080"/><rect x="62" y="9" width="7" height="1" fill="#808080"/><rect x="62" y="11" width="5" height="1" fill="#808080"/>
<path d="M68,9 H72 V13 H76 V16 H72 V20 H68 V16 H64 V13 H68 Z" fill="#22c022" stroke="#108010" stroke-width="0.7"/>
<path d="M5,0 L6,2 M1,3 H10 M3,4 L4,7 M8,4 L7,7 M1,8 H10 M1,12 H10 M5.5,8 V19 M5,13 L1,17 M6,13 L10,16 M19,1 L13,3 V10 L11,18 M13,8 H19 M16,8 V19" transform="translate(79.50,3.5) scale(0.5500)" fill="none" stroke="#000" stroke-width="1.82" stroke-linecap="square"/>
<path d="M3,1 L5,3 M1,7 H4 V17 L7,14 M9,3 H19 M14,3 V18 L11,17" transform="translate(91.70,3.5) scale(0.5500)" fill="none" stroke="#000" stroke-width="1.82" stroke-linecap="square"/>
<path d="M6,0 L7,2 M14,0 L13,2 M4,3 H16 V12 H4 Z M4,7.5 H16 M10,3 V19 M1,15 H19" transform="translate(103.90,3.5) scale(0.5500)" fill="none" stroke="#000" stroke-width="1.82" stroke-linecap="square"/>
<polygon points="127,11 134,3 143,10 136,18" fill="#e0b030" stroke="#9a6a10" stroke-width="0.8"/>
<polygon points="128,12 136,18 136,16 129,11" fill="#b07818"/>
<rect x="157" y="2" width="11" height="11" fill="#3a8ee8" stroke="#2060b0" stroke-width="0.6"/>
<rect x="159" y="6" width="7" height="1.5" fill="#fff"/>
<ellipse cx="163" cy="15" rx="8" ry="3.5" fill="#f0f4fa" stroke="#8090a8" stroke-width="0.8"/>
<circle cx="161" cy="12.5" r="3" fill="#f0f4fa" stroke="#8090a8" stroke-width="0.8"/>
<circle cx="191" cy="10" r="7.5" fill="none" stroke="#80b0e0" stroke-width="1"/>
<circle cx="191" cy="10" r="5" fill="none" stroke="#4a90d8" stroke-width="1"/>
<circle cx="191" cy="10" r="2.5" fill="#2f6fd0"/>
<path d="M191,10 V17 Q196,17 197,12" fill="none" stroke="#20a020" stroke-width="1.2"/>
<ellipse cx="218" cy="7" rx="8" ry="3" fill="#5aa0e0" stroke="#3070b0" stroke-width="0.6"/>
<ellipse cx="218" cy="5" rx="4.5" ry="3" fill="#6ab0f0"/>
<polygon points="211,9 225,9 220,17" fill="#f0d040" stroke="#b09020" stroke-width="0.6"/>
<circle cx="222.5" cy="14" r="4" fill="#d82020"/><rect x="221" y="12.5" width="3" height="3" fill="#fff"/>
<path d="M10,0 L8,3 M4,3 H16 V19 H4 Z M4,8 H16 M4,13.5 H16" transform="translate(232.00,3.5) scale(0.5500)" fill="none" stroke="#000" stroke-width="1.82" stroke-linecap="square"/>
<path d="M1,3 H8 M1,8 H9 M5,8 L2,16 L9,14 M7,12 L9,16 M11,5 H19 V17 L17,18 M15,1 V9 L11,19" transform="translate(244.00,3.5) scale(0.5500)" fill="none" stroke="#000" stroke-width="1.82" stroke-linecap="square"/>
<path d="M10,0 V3 M1,4 H19 M7,6 L3,10 M13,6 L17,10 M6,9 L15,19 M14,10 L4,19" transform="translate(256.00,3.5) scale(0.5500)" fill="none" stroke="#000" stroke-width="1.82" stroke-linecap="square"/>
<path d="M4,1 H16 V9 H4 Z M4,5 H16 M6,9 L2,14 M5,11 H18 L16,19 L14,18 M9,11 L5,17 M13,11 L9,19" transform="translate(268.00,3.5) scale(0.5500)" fill="none" stroke="#000" stroke-width="1.82" stroke-linecap="square"/>
<rect x="286" y="1" width="1" height="19" fill="#a0a0a0"/><rect x="287" y="1" width="1" height="19" fill="#ffffff"/>
<rect x="290" y="2" width="3" height="1" fill="#a8a8a8"/><rect x="290" y="4" width="3" height="1" fill="#a8a8a8"/><rect x="290" y="6" width="3" height="1" fill="#a8a8a8"/><rect x="290" y="8" width="3" height="1" fill="#a8a8a8"/><rect x="290" y="10" width="3" height="1" fill="#a8a8a8"/><rect x="290" y="12" width="3" height="1" fill="#a8a8a8"/><rect x="290" y="14" width="3" height="1" fill="#a8a8a8"/><rect x="290" y="16" width="3" height="1" fill="#a8a8a8"/><rect x="290" y="18" width="3" height="1" fill="#a8a8a8"/>
<rect x="304" y="4" width="1" height="14" fill="#555"/><rect x="302" y="15" width="14" height="1" fill="#555"/><polygon points="304.5,3 302.5,6 306.5,6" fill="#555"/><polygon points="317,15.5 314,13.5 314,17.5" fill="#555"/>
<path d="M308,14 V10 H310 M312,11 V5 H314" fill="none" stroke="#20a020" stroke-width="1.2"/>
<rect x="323" y="1" width="1" height="19" fill="#a0a0a0"/><rect x="324" y="1" width="1" height="19" fill="#ffffff"/>
<rect x="325" y="0" width="24" height="21" fill="#f8f8f8"/>
<rect x="332" y="4" width="1" height="14" fill="#555"/><rect x="330" y="15" width="14" height="1" fill="#555"/><polygon points="332.5,3 330.5,6 334.5,6" fill="#555"/><polygon points="345,15.5 342,13.5 342,17.5" fill="#555"/>
<rect x="336" y="5" width="4" height="7" fill="#30d040" stroke="#108010" stroke-width="0.8"/><rect x="337.5" y="2" width="1" height="13" fill="#108010"/>
<rect x="360" y="4" width="1" height="14" fill="#555"/><rect x="358" y="15" width="14" height="1" fill="#555"/><polygon points="360.5,3 358.5,6 362.5,6" fill="#555"/><polygon points="373,15.5 370,13.5 370,17.5" fill="#555"/>
<path d="M360,13 Q366,3 372,10" fill="none" stroke="#20a020" stroke-width="1.2"/>
<rect x="381" y="1" width="1" height="19" fill="#a0a0a0"/><rect x="382" y="1" width="1" height="19" fill="#ffffff"/>
<circle cx="396.5" cy="8" r="5.5" fill="#dbeeff" stroke="#2f6fd0" stroke-width="1.5"/><line x1="400" y1="12" x2="405" y2="17" stroke="#c8a020" stroke-width="3"/><rect x="393.5" y="7" width="6" height="2" fill="#2f6fd0"/><rect x="395.5" y="5" width="2" height="6" fill="#2f6fd0"/>
<circle cx="424.5" cy="8" r="5.5" fill="#dbeeff" stroke="#2f6fd0" stroke-width="1.5"/><line x1="428" y1="12" x2="433" y2="17" stroke="#c8a020" stroke-width="3"/><rect x="421.5" y="7" width="6" height="2" fill="#2f6fd0"/>
<rect x="446" y="2" width="8" height="8" fill="#38a838"/><rect x="455" y="2" width="8" height="8" fill="#2060d0"/><rect x="446" y="11" width="8" height="8" fill="#2060d0"/><rect x="455" y="11" width="8" height="8" fill="#38a838"/>
<rect x="447" y="5" width="6" height="3" fill="#fff"/>
<rect x="456" y="5" width="6" height="3" fill="#fff"/>
<rect x="447" y="14" width="6" height="3" fill="#fff"/>
<rect x="456" y="14" width="6" height="3" fill="#fff"/>
<rect x="470" y="1" width="1" height="19" fill="#a0a0a0"/><rect x="471" y="1" width="1" height="19" fill="#ffffff"/>
<rect x="475" y="1" width="1" height="19" fill="#a0a0a0"/><rect x="476" y="1" width="1" height="19" fill="#ffffff"/>
<rect x="477" y="0" width="23" height="21" fill="#f8f8f8"/>
<rect x="484" y="4" width="1" height="14" fill="#555"/><rect x="482" y="15" width="14" height="1" fill="#555"/><polygon points="484.5,3 482.5,6 486.5,6" fill="#555"/><polygon points="497,15.5 494,13.5 494,17.5" fill="#555"/>
<polygon points="488,6 488,13 493,9.5" fill="#20b020"/>
<rect x="503" y="1" width="1" height="19" fill="#a0a0a0"/><rect x="504" y="1" width="1" height="19" fill="#ffffff"/>
<rect x="505" y="0" width="24" height="21" fill="#f8f8f8"/>
<rect x="512" y="4" width="1" height="14" fill="#555"/><rect x="510" y="15" width="14" height="1" fill="#555"/><polygon points="512.5,3 510.5,6 514.5,6" fill="#555"/><polygon points="525,15.5 522,13.5 522,17.5" fill="#555"/>
<rect x="518" y="4" width="1" height="11" fill="#2060d0"/><polygon points="519,9.5 524,7 524,12" fill="#e04010"/>
<rect x="533" y="1" width="1" height="19" fill="#a0a0a0"/><rect x="534" y="1" width="1" height="19" fill="#ffffff"/>
<path d="M543.5,2.5 H551 L554.5,6 V15.5 H543.5 Z" fill="#fff" stroke="#606060"/>
<path d="M551,8 H555 V12 H559 V15 H555 V19 H551 V15 H547 V12 H551 Z" fill="#22c022" stroke="#108010" stroke-width="0.7"/>
<polygon points="565,9 571,9 568,12" fill="#000"/>
<circle cx="589" cy="10" r="7.5" fill="#2a7ee0" stroke="#1a50a0" stroke-width="0.8"/><circle cx="589" cy="10" r="5.5" fill="#fff"/><path d="M589,6 V10 H592" fill="none" stroke="#333" stroke-width="1"/>
<polygon points="603,9 609,9 606,12" fill="#000"/>
<rect x="620.5" y="3.5" width="16" height="13" fill="#fff" stroke="#2a6ad0"/><rect x="621" y="4" width="15" height="2" fill="#4a8ae0"/>
<path d="M622,10 L625,8 L628,9 L631,7 L635,8" fill="none" stroke="#c02020" stroke-width="1"/><path d="M622,14 L625,12 L628,13 L631,11 L635,13" fill="none" stroke="#20a020" stroke-width="1"/>
<polygon points="642,9 648,9 645,12" fill="#000"/>
<rect x="655" y="1" width="1" height="19" fill="#a0a0a0"/><rect x="656" y="1" width="1" height="19" fill="#ffffff"/>
<rect x="659" y="2" width="3" height="1" fill="#a8a8a8"/><rect x="659" y="4" width="3" height="1" fill="#a8a8a8"/><rect x="659" y="6" width="3" height="1" fill="#a8a8a8"/><rect x="659" y="8" width="3" height="1" fill="#a8a8a8"/><rect x="659" y="10" width="3" height="1" fill="#a8a8a8"/><rect x="659" y="12" width="3" height="1" fill="#a8a8a8"/><rect x="659" y="14" width="3" height="1" fill="#a8a8a8"/><rect x="659" y="16" width="3" height="1" fill="#a8a8a8"/><rect x="659" y="18" width="3" height="1" fill="#a8a8a8"/>
<rect x="665" y="0" width="24" height="21" fill="#f8f8f8"/>
<polygon points="672,3 672,16 675,13 678,18 680,17 677,12 681,12" fill="#000"/>
<rect x="697" y="10" width="15" height="1" fill="#333"/><rect x="704" y="3" width="1" height="15" fill="#333"/>
<rect x="721" y="1" width="1" height="19" fill="#a0a0a0"/><rect x="722" y="1" width="1" height="19" fill="#ffffff"/>
<rect x="738" y="4" width="1" height="12" fill="#333"/>
<rect x="761" y="10" width="12" height="1" fill="#333"/>
<line x1="788" y1="17" x2="801" y2="5" stroke="#333"/>
<path d="M815,15 L828,3 M816,18 L829,6 M818,10 L820,14 M822,7 L824,11" fill="none" stroke="#333"/>
<text x="826" y="19" font-size="6" fill="#000" text-anchor="start" font-weight="bold" >E</text>
<path d="M843,4 H857 M843,8 H857 M843,12 H855" fill="none" stroke="#555" stroke-dasharray="1,1"/>
<text x="853" y="19" font-size="6" fill="#000" text-anchor="start" font-weight="bold" >F</text>
<text x="873.5" y="15.5" font-size="11" fill="#444" text-anchor="start" font-weight="bold" >A</text>
<rect x="900.5" y="3.5" width="13" height="13" fill="none" stroke="#555" stroke-dasharray="1,1"/>
<text x="903" y="15" font-size="11" fill="#333" text-anchor="start" font-weight="bold" >T</text>
<polygon points="928,7 931,3 934,7" fill="#333"/><path d="M930,9 L932,12 L937,6" fill="none" stroke="#333" stroke-width="1.5"/><polygon points="937,13 943,13 940,17" fill="#333"/>
<polygon points="948,9 954,9 951,12" fill="#000"/>
<rect x="957" y="1" width="1" height="19" fill="#a0a0a0"/><rect x="958" y="1" width="1" height="19" fill="#ffffff"/>
<rect x="961" y="2" width="3" height="1" fill="#a8a8a8"/><rect x="961" y="4" width="3" height="1" fill="#a8a8a8"/><rect x="961" y="6" width="3" height="1" fill="#a8a8a8"/><rect x="961" y="8" width="3" height="1" fill="#a8a8a8"/><rect x="961" y="10" width="3" height="1" fill="#a8a8a8"/><rect x="961" y="12" width="3" height="1" fill="#a8a8a8"/><rect x="961" y="14" width="3" height="1" fill="#a8a8a8"/><rect x="961" y="16" width="3" height="1" fill="#a8a8a8"/><rect x="961" y="18" width="3" height="1" fill="#a8a8a8"/>
<text x="975.5" y="13.5" font-size="9.5" fill="#222" text-anchor="start" font-weight="normal" textLength="12.5" lengthAdjust="spacingAndGlyphs" >M1</text>
<text x="1003.5" y="13.5" font-size="9.5" fill="#222" text-anchor="start" font-weight="normal" textLength="12.5" lengthAdjust="spacingAndGlyphs" >M5</text>
<text x="1029.5" y="13.5" font-size="9.5" fill="#222" text-anchor="start" font-weight="normal" textLength="18" lengthAdjust="spacingAndGlyphs" >M15</text>
<text x="1057.5" y="13.5" font-size="9.5" fill="#222" text-anchor="start" font-weight="normal" textLength="18" lengthAdjust="spacingAndGlyphs" >M30</text>
<text x="1088.5" y="13.5" font-size="9.5" fill="#222" text-anchor="start" font-weight="normal" textLength="11.5" lengthAdjust="spacingAndGlyphs" >H1</text>
<text x="1115.5" y="13.5" font-size="9.5" fill="#222" text-anchor="start" font-weight="normal" textLength="12" lengthAdjust="spacingAndGlyphs" >H4</text>
<rect x="1138" y="1" width="1" height="19" fill="#a0a0a0"/><rect x="1139" y="1" width="1" height="19" fill="#ffffff"/>
<rect x="1140" y="0" width="26" height="21" fill="#f8f8f8"/>
<text x="1144.5" y="13.5" font-size="9.5" fill="#222" text-anchor="start" font-weight="normal" textLength="12" lengthAdjust="spacingAndGlyphs" >D1</text>
<text x="1171.5" y="13.5" font-size="9.5" fill="#222" text-anchor="start" font-weight="normal" textLength="14" lengthAdjust="spacingAndGlyphs" >W1</text>
<text x="1198.5" y="13.5" font-size="9.5" fill="#222" text-anchor="start" font-weight="normal" textLength="15" lengthAdjust="spacingAndGlyphs" >MN</text>
<rect x="1221" y="1" width="1" height="19" fill="#a0a0a0"/><rect x="1222" y="1" width="1" height="19" fill="#ffffff"/>
<circle cx="1691.5" cy="7.5" r="4" fill="none" stroke="#2a6ad8" stroke-width="1.6"/><line x1="1688.5" y1="10.5" x2="1684.5" y2="14.5" stroke="#2a6ad8" stroke-width="2.2"/>
<ellipse cx="1724" cy="8" rx="6.5" ry="5" fill="#e8e8ee" stroke="#909098" stroke-width="0.8"/>
<ellipse cx="1715.5" cy="11" rx="5" ry="4" fill="#e8e8ee" stroke="#909098" stroke-width="0.8"/>
</g>
<g clip-path="url(#cmacd)" shape-rendering="crispEdges">
<rect x="4" y="646" width="1" height="81" fill="#c0c0c0"/>
<rect x="12" y="646" width="1" height="67" fill="#c0c0c0"/>
<rect x="20" y="646" width="1" height="50" fill="#c0c0c0"/>
<rect x="28" y="646" width="1" height="17" fill="#c0c0c0"/>
<rect x="36" y="636" width="1" height="10" fill="#c0c0c0"/>
<rect x="44" y="622" width="1" height="24" fill="#c0c0c0"/>
<rect x="52" y="609" width="1" height="37" fill="#c0c0c0"/>
<rect x="60" y="598" width="1" height="48" fill="#c0c0c0"/>
<rect x="68" y="591" width="1" height="55" fill="#c0c0c0"/>
<rect x="76" y="597" width="1" height="49" fill="#c0c0c0"/>
<rect x="84" y="610" width="1" height="36" fill="#c0c0c0"/>
<rect x="92" y="623" width="1" height="23" fill="#c0c0c0"/>
<rect x="100" y="630" width="1" height="16" fill="#c0c0c0"/>
<rect x="108" y="639" width="1" height="7" fill="#c0c0c0"/>
<rect x="116" y="646" width="1" height="1" fill="#c0c0c0"/>
<rect x="124" y="646" width="1" height="3" fill="#c0c0c0"/>
<rect x="132" y="646" width="1" height="3" fill="#c0c0c0"/>
<rect x="148" y="641" width="1" height="5" fill="#c0c0c0"/>
<rect x="156" y="640" width="1" height="6" fill="#c0c0c0"/>
<rect x="164" y="638" width="1" height="8" fill="#c0c0c0"/>
<rect x="172" y="640" width="1" height="6" fill="#c0c0c0"/>
<rect x="180" y="641" width="1" height="5" fill="#c0c0c0"/>
<rect x="188" y="646" width="1" height="1" fill="#c0c0c0"/>
<rect x="196" y="646" width="1" height="9" fill="#c0c0c0"/>
<rect x="204" y="646" width="1" height="12" fill="#c0c0c0"/>
<rect x="212" y="646" width="1" height="12" fill="#c0c0c0"/>
<rect x="220" y="646" width="1" height="15" fill="#c0c0c0"/>
<rect x="228" y="646" width="1" height="15" fill="#c0c0c0"/>
<rect x="236" y="646" width="1" height="16" fill="#c0c0c0"/>
<rect x="244" y="646" width="1" height="16" fill="#c0c0c0"/>
<rect x="252" y="646" width="1" height="15" fill="#c0c0c0"/>
<rect x="260" y="646" width="1" height="16" fill="#c0c0c0"/>
<rect x="268" y="646" width="1" height="17" fill="#c0c0c0"/>
<rect x="276" y="646" width="1" height="17" fill="#c0c0c0"/>
<rect x="284" y="646" width="1" height="19" fill="#c0c0c0"/>
<rect x="292" y="646" width="1" height="23" fill="#c0c0c0"/>
<rect x="300" y="646" width="1" height="27" fill="#c0c0c0"/>
<rect x="308" y="646" width="1" height="26" fill="#c0c0c0"/>
<rect x="316" y="646" width="1" height="27" fill="#c0c0c0"/>
<rect x="324" y="646" width="1" height="29" fill="#c0c0c0"/>
<rect x="332" y="646" width="1" height="30" fill="#c0c0c0"/>
<rect x="340" y="646" width="1" height="32" fill="#c0c0c0"/>
<rect x="348" y="646" width="1" height="35" fill="#c0c0c0"/>
<rect x="356" y="646" width="1" height="36" fill="#c0c0c0"/>
<rect x="364" y="646" width="1" height="34" fill="#c0c0c0"/>
<rect x="372" y="646" width="1" height="31" fill="#c0c0c0"/>
<rect x="380" y="646" width="1" height="23" fill="#c0c0c0"/>
<rect x="388" y="646" width="1" height="20" fill="#c0c0c0"/>
<rect x="396" y="646" width="1" height="19" fill="#c0c0c0"/>
<rect x="404" y="646" width="1" height="15" fill="#c0c0c0"/>
<rect x="412" y="646" width="1" height="12" fill="#c0c0c0"/>
<rect x="420" y="646" width="1" height="11" fill="#c0c0c0"/>
<rect x="428" y="646" width="1" height="8" fill="#c0c0c0"/>
<rect x="436" y="646" width="1" height="3" fill="#c0c0c0"/>
<rect x="452" y="644" width="1" height="2" fill="#c0c0c0"/>
<rect x="460" y="643" width="1" height="3" fill="#c0c0c0"/>
<rect x="468" y="641" width="1" height="5" fill="#c0c0c0"/>
<rect x="476" y="640" width="1" height="6" fill="#c0c0c0"/>
<rect x="484" y="640" width="1" height="6" fill="#c0c0c0"/>
<rect x="492" y="638" width="1" height="8" fill="#c0c0c0"/>
<rect x="500" y="638" width="1" height="8" fill="#c0c0c0"/>
<rect x="508" y="637" width="1" height="9" fill="#c0c0c0"/>
<rect x="516" y="637" width="1" height="9" fill="#c0c0c0"/>
<rect x="524" y="638" width="1" height="8" fill="#c0c0c0"/>
<rect x="532" y="631" width="1" height="15" fill="#c0c0c0"/>
<rect x="540" y="624" width="1" height="22" fill="#c0c0c0"/>
<rect x="548" y="618" width="1" height="28" fill="#c0c0c0"/>
<rect x="556" y="611" width="1" height="35" fill="#c0c0c0"/>
<rect x="564" y="606" width="1" height="40" fill="#c0c0c0"/>
<rect x="572" y="610" width="1" height="36" fill="#c0c0c0"/>
<rect x="580" y="617" width="1" height="29" fill="#c0c0c0"/>
<rect x="588" y="629" width="1" height="17" fill="#c0c0c0"/>
<rect x="596" y="639" width="1" height="7" fill="#c0c0c0"/>
<rect x="604" y="643" width="1" height="3" fill="#c0c0c0"/>
<rect x="612" y="646" width="1" height="1" fill="#c0c0c0"/>
<rect x="620" y="646" width="1" height="3" fill="#c0c0c0"/>
<rect x="628" y="646" width="1" height="5" fill="#c0c0c0"/>
<rect x="636" y="646" width="1" height="10" fill="#c0c0c0"/>
<rect x="644" y="646" width="1" height="13" fill="#c0c0c0"/>
<rect x="652" y="646" width="1" height="16" fill="#c0c0c0"/>
<rect x="660" y="646" width="1" height="18" fill="#c0c0c0"/>
<rect x="668" y="646" width="1" height="20" fill="#c0c0c0"/>
<rect x="676" y="646" width="1" height="23" fill="#c0c0c0"/>
<rect x="684" y="646" width="1" height="22" fill="#c0c0c0"/>
<rect x="692" y="646" width="1" height="20" fill="#c0c0c0"/>
<rect x="700" y="646" width="1" height="18" fill="#c0c0c0"/>
<rect x="708" y="646" width="1" height="16" fill="#c0c0c0"/>
<rect x="716" y="646" width="1" height="12" fill="#c0c0c0"/>
<rect x="724" y="646" width="1" height="7" fill="#c0c0c0"/>
<rect x="732" y="646" width="1" height="6" fill="#c0c0c0"/>
<rect x="740" y="646" width="1" height="4" fill="#c0c0c0"/>
<rect x="748" y="646" width="1" height="3" fill="#c0c0c0"/>
<rect x="756" y="646" width="1" height="2" fill="#c0c0c0"/>
<rect x="764" y="646" width="1" height="2" fill="#c0c0c0"/>
<rect x="772" y="646" width="1" height="1" fill="#c0c0c0"/>
<rect x="780" y="646" width="1" height="2" fill="#c0c0c0"/>
<rect x="788" y="646" width="1" height="3" fill="#c0c0c0"/>
<rect x="796" y="646" width="1" height="5" fill="#c0c0c0"/>
<rect x="804" y="646" width="1" height="7" fill="#c0c0c0"/>
<rect x="812" y="646" width="1" height="7" fill="#c0c0c0"/>
<rect x="820" y="646" width="1" height="6" fill="#c0c0c0"/>
<rect x="828" y="646" width="1" height="8" fill="#c0c0c0"/>
<rect x="836" y="646" width="1" height="7" fill="#c0c0c0"/>
<rect x="844" y="646" width="1" height="8" fill="#c0c0c0"/>
<rect x="852" y="646" width="1" height="8" fill="#c0c0c0"/>
<rect x="860" y="646" width="1" height="7" fill="#c0c0c0"/>
<rect x="868" y="646" width="1" height="9" fill="#c0c0c0"/>
<rect x="876" y="646" width="1" height="8" fill="#c0c0c0"/>
<rect x="884" y="646" width="1" height="9" fill="#c0c0c0"/>
<rect x="892" y="646" width="1" height="15" fill="#c0c0c0"/>
<rect x="900" y="646" width="1" height="20" fill="#c0c0c0"/>
<rect x="908" y="646" width="1" height="28" fill="#c0c0c0"/>
<rect x="916" y="646" width="1" height="35" fill="#c0c0c0"/>
<rect x="924" y="646" width="1" height="40" fill="#c0c0c0"/>
<rect x="932" y="646" width="1" height="47" fill="#c0c0c0"/>
<rect x="940" y="646" width="1" height="44" fill="#c0c0c0"/>
<rect x="948" y="646" width="1" height="41" fill="#c0c0c0"/>
<rect x="956" y="646" width="1" height="37" fill="#c0c0c0"/>
<rect x="964" y="646" width="1" height="36" fill="#c0c0c0"/>
<rect x="972" y="646" width="1" height="35" fill="#c0c0c0"/>
<rect x="980" y="646" width="1" height="34" fill="#c0c0c0"/>
<rect x="988" y="646" width="1" height="31" fill="#c0c0c0"/>
<rect x="996" y="646" width="1" height="28" fill="#c0c0c0"/>
<rect x="1004" y="646" width="1" height="25" fill="#c0c0c0"/>
<rect x="1012" y="646" width="1" height="19" fill="#c0c0c0"/>
<rect x="1020" y="646" width="1" height="12" fill="#c0c0c0"/>
<rect x="1028" y="646" width="1" height="5" fill="#c0c0c0"/>
<rect x="1036" y="646" width="1" height="3" fill="#c0c0c0"/>
<rect x="1044" y="646" width="1" height="1" fill="#c0c0c0"/>
<rect x="1052" y="646" width="1" height="3" fill="#c0c0c0"/>
<rect x="1060" y="646" width="1" height="9" fill="#c0c0c0"/>
<rect x="1068" y="646" width="1" height="8" fill="#c0c0c0"/>
<rect x="1076" y="646" width="1" height="11" fill="#c0c0c0"/>
<rect x="1084" y="646" width="1" height="11" fill="#c0c0c0"/>
<rect x="1092" y="646" width="1" height="11" fill="#c0c0c0"/>
<rect x="1100" y="646" width="1" height="10" fill="#c0c0c0"/>
<rect x="1108" y="646" width="1" height="7" fill="#c0c0c0"/>
<rect x="1116" y="646" width="1" height="8" fill="#c0c0c0"/>
<rect x="1124" y="646" width="1" height="3" fill="#c0c0c0"/>
<rect x="1132" y="646" width="1" height="7" fill="#c0c0c0"/>
<rect x="1140" y="646" width="1" height="10" fill="#c0c0c0"/>
<rect x="1148" y="646" width="1" height="9" fill="#c0c0c0"/>
<rect x="1156" y="646" width="1" height="8" fill="#c0c0c0"/>
<rect x="1164" y="646" width="1" height="6" fill="#c0c0c0"/>
<rect x="1172" y="646" width="1" height="5" fill="#c0c0c0"/>
<rect x="1180" y="646" width="1" height="3" fill="#c0c0c0"/>
<rect x="1188" y="646" width="1" height="1" fill="#c0c0c0"/>
<rect x="1204" y="646" width="1" height="1" fill="#c0c0c0"/>
<rect x="1220" y="645" width="1" height="1" fill="#c0c0c0"/>
<rect x="1236" y="645" width="1" height="1" fill="#c0c0c0"/>
<rect x="1244" y="646" width="1" height="2" fill="#c0c0c0"/>
<rect x="1252" y="646" width="1" height="6" fill="#c0c0c0"/>
<rect x="1260" y="646" width="1" height="11" fill="#c0c0c0"/>
<rect x="1268" y="646" width="1" height="18" fill="#c0c0c0"/>
<rect x="1276" y="646" width="1" height="23" fill="#c0c0c0"/>
<rect x="1284" y="646" width="1" height="27" fill="#c0c0c0"/>
<rect x="1292" y="646" width="1" height="29" fill="#c0c0c0"/>
<rect x="1300" y="646" width="1" height="28" fill="#c0c0c0"/>
<rect x="1308" y="646" width="1" height="26" fill="#c0c0c0"/>
<rect x="1316" y="646" width="1" height="22" fill="#c0c0c0"/>
<rect x="1324" y="646" width="1" height="19" fill="#c0c0c0"/>
<rect x="1332" y="646" width="1" height="16" fill="#c0c0c0"/>
<rect x="1340" y="646" width="1" height="14" fill="#c0c0c0"/>
<rect x="1348" y="646" width="1" height="11" fill="#c0c0c0"/>
<rect x="1356" y="646" width="1" height="10" fill="#c0c0c0"/>
<rect x="1364" y="646" width="1" height="8" fill="#c0c0c0"/>
<rect x="1372" y="646" width="1" height="8" fill="#c0c0c0"/>
<rect x="1380" y="646" width="1" height="7" fill="#c0c0c0"/>
<rect x="1388" y="646" width="1" height="5" fill="#c0c0c0"/>
<rect x="1396" y="646" width="1" height="4" fill="#c0c0c0"/>
<rect x="1412" y="643" width="1" height="3" fill="#c0c0c0"/>
<rect x="1420" y="644" width="1" height="2" fill="#c0c0c0"/>
<rect x="1428" y="644" width="1" height="2" fill="#c0c0c0"/>
<polyline points="-3.5,742.3 4.5,742.8 12.5,742.0 20.5,738.0 28.5,727.0 36.5,713.0 44.5,697.0 52.5,680.0 60.5,666.0 68.5,650.7 76.5,636.3 84.5,624.8 92.5,616.7 100.5,612.9 108.5,613.2 116.5,615.9 124.5,620.4 132.5,626.0 140.5,632.1 148.5,637.1 156.5,640.5 164.5,642.1 172.5,643.2 180.5,643.5 188.5,643.5 196.5,644.2 204.5,645.3 212.5,646.6 220.5,648.8 228.5,651.1 236.5,653.8 244.5,656.3 252.5,658.5 260.5,660.1 268.5,661.0 276.5,661.5 284.5,662.3 292.5,663.3 300.5,664.6 308.5,665.7 316.5,667.0 324.5,668.5 332.5,670.1 340.5,671.8 348.5,673.7 356.5,675.6 364.5,676.8 372.5,677.1 380.5,676.8 388.5,676.0 396.5,674.9 404.5,673.3 412.5,671.1 420.5,668.4 428.5,665.3 436.5,661.8 444.5,658.4 452.5,655.6 460.5,653.0 468.5,650.3 476.5,648.0 484.5,645.9 492.5,643.9 500.5,642.2 508.5,640.9 516.5,639.9 524.5,639.2 532.5,637.8 540.5,636.0 548.5,633.7 556.5,630.5 564.5,626.8 572.5,623.7 580.5,621.4 588.5,620.5 596.5,620.6 604.5,621.9 612.5,624.4 620.5,627.8 628.5,632.2 636.5,637.8 644.5,643.2 652.5,648.2 660.5,652.2 668.5,655.2 676.5,658.1 684.5,660.5 692.5,662.5 700.5,664.0 708.5,664.7 716.5,664.6 724.5,663.5 732.5,662.2 740.5,660.5 748.5,658.2 756.5,655.9 764.5,653.9 772.5,651.9 780.5,650.3 788.5,649.2 796.5,649.1 804.5,649.3 812.5,649.5 820.5,649.8 828.5,650.5 836.5,651.1 844.5,651.9 852.5,652.6 860.5,653.1 868.5,653.5 876.5,653.5 884.5,653.8 892.5,654.8 900.5,656.1 908.5,658.5 916.5,661.5 924.5,665.1 932.5,669.5 940.5,673.4 948.5,677.1 956.5,680.2 964.5,682.5 972.5,684.2 980.5,684.8 988.5,684.3 996.5,683.0 1004.5,680.5 1012.5,677.7 1020.5,674.4 1028.5,670.9 1036.5,667.2 1044.5,663.3 1052.5,659.8 1060.5,657.4 1068.5,655.2 1076.5,653.6 1084.5,652.8 1092.5,652.8 1100.5,653.4 1108.5,653.8 1116.5,654.6 1124.5,654.7 1132.5,654.5 1140.5,654.6 1148.5,654.4 1156.5,654.1 1164.5,653.6 1172.5,653.0 1180.5,652.5 1188.5,651.8 1196.5,651.5 1204.5,650.7 1212.5,649.6 1220.5,648.6 1228.5,647.6 1236.5,646.8 1244.5,646.5 1252.5,646.8 1260.5,647.9 1268.5,649.9 1276.5,652.4 1284.5,655.5 1292.5,658.8 1300.5,662.1 1308.5,665.0 1316.5,667.3 1324.5,668.7 1332.5,669.2 1340.5,668.7 1348.5,667.4 1356.5,665.4 1364.5,663.1 1372.5,660.8 1380.5,658.7 1388.5,656.8 1396.5,655.2 1404.5,653.5 1412.5,651.6 1420.5,650.2 1428.5,648.9 1436.5,648.0" fill="none" stroke="#ff0000" stroke-width="1" stroke-dasharray="3,3"/>
</g>
<g clip-path="url(#cmacd)"><line x1="1280" y1="685.5" x2="1428.3" y2="649.8" stroke="#ff0000" stroke-width="3.2" stroke-linecap="round" shape-rendering="crispEdges"/><polygon points="1438,647.5 1429.3,654.2 1427.2,645.5" fill="#ff0000"/></g>
<g clip-path="url(#crsi)" shape-rendering="crispEdges">
<polyline points="-3.5,847.4 4.5,848.7 12.5,840.3 20.5,834.1 28.5,818.8 36.5,818.1 44.5,826.4 52.5,824.1 60.5,823.6 68.5,824.3 76.5,837.9 84.5,846.9 92.5,848.9 100.5,844.1 108.5,848.1 116.5,849.6 124.5,843.4 132.5,841.4 140.5,837.8 148.5,834.4 156.5,838.8 164.5,836.3 172.5,841.2 180.5,842.1 188.5,849.1 196.5,853.7 204.5,847.9 212.5,844.4 220.5,847.9 228.5,846.5 236.5,846.9 244.5,846.2 252.5,844.6 260.5,847.0 268.5,850.2 276.5,848.8 284.5,852.0 292.5,859.6 300.5,861.3 308.5,848.2 316.5,854.5 324.5,856.1 332.5,856.7 340.5,860.3 348.5,863.8 356.5,859.9 364.5,852.9 372.5,847.2 380.5,834.1 388.5,842.3 396.5,846.7 404.5,838.4 412.5,840.2 420.5,841.3 428.5,837.7 436.5,829.4 444.5,834.7 452.5,833.8 460.5,835.2 468.5,831.4 476.5,833.4 484.5,838.9 492.5,831.1 500.5,835.8 508.5,831.8 516.5,834.5 524.5,838.9 532.5,813.2 540.5,810.8 548.5,808.7 556.5,802.5 564.5,802.2 572.5,834.2 580.5,845.9 588.5,857.7 596.5,860.3 604.5,847.9 612.5,849.8 620.5,846.6 628.5,848.3 636.5,856.6 644.5,853.8 652.5,855.9 660.5,856.6 668.5,854.7 676.5,863.1 684.5,848.4 692.5,845.7 700.5,845.0 708.5,843.9 716.5,836.0 724.5,827.7 732.5,842.0 740.5,839.4 748.5,839.1 756.5,837.3 764.5,843.0 772.5,837.4 780.5,844.9 788.5,845.8 796.5,852.8 804.5,853.2 812.5,842.7 820.5,843.5 828.5,852.3 836.5,841.6 844.5,849.4 852.5,845.5 860.5,843.0 868.5,852.1 876.5,842.1 884.5,850.3 892.5,865.8 900.5,866.1 908.5,876.1 916.5,878.1 924.5,878.8 932.5,883.2 940.5,854.5 948.5,852.3 956.5,848.5 964.5,855.8 972.5,856.8 980.5,856.5 988.5,847.1 996.5,848.8 1004.5,845.2 1012.5,833.7 1020.5,826.8 1028.5,824.4 1036.5,835.3 1044.5,835.4 1052.5,848.2 1060.5,861.9 1068.5,843.3 1076.5,850.2 1084.5,847.4 1092.5,846.5 1100.5,843.6 1108.5,835.8 1116.5,846.0 1124.5,832.1 1132.5,851.9 1140.5,849.8 1148.5,841.9 1156.5,843.8 1164.5,838.3 1172.5,840.5 1180.5,838.3 1188.5,836.5 1196.5,837.0 1204.5,843.7 1212.5,838.1 1220.5,840.1 1228.5,841.1 1236.5,840.0 1244.5,849.9 1252.5,856.5 1260.5,862.6 1268.5,868.7 1276.5,870.8 1284.5,870.9 1292.5,865.7 1300.5,854.5 1308.5,847.4 1316.5,844.0 1324.5,839.9 1332.5,840.9 1340.5,844.2 1348.5,837.6 1356.5,844.0 1364.5,840.9 1372.5,845.7 1380.5,841.9 1388.5,837.2 1396.5,837.9 1404.5,827.6 1412.5,825.9 1420.5,840.8 1428.5,840.7 1436.5,849.9" fill="none" stroke="#1e90ff" stroke-width="1" />
</g>
<g clip-path="url(#crsi)"><line x1="1285" y1="875.5" x2="1404.9" y2="820.7" stroke="#ff0000" stroke-width="3.2" stroke-linecap="round" shape-rendering="crispEdges"/><polygon points="1414,816.5 1406.8,824.8 1403.0,816.6" fill="#ff0000"/><line x1="1414.5" y1="818" x2="1431.5" y2="843.7" stroke="#ff0000" stroke-width="3.2" stroke-linecap="round" shape-rendering="crispEdges"/><polygon points="1437,852 1427.7,846.1 1435.2,841.2" fill="#ff0000"/></g>
<text x="1" y="594" font-size="9.5" textLength="130" lengthAdjust="spacingAndGlyphs">MACD(12,26,9) 0.0003 -0.0205</text>
<text x="1" y="766" font-size="9.5" textLength="68" lengthAdjust="spacingAndGlyphs">RSI(14) 44.7969</text>
</svg>
</body></html>
